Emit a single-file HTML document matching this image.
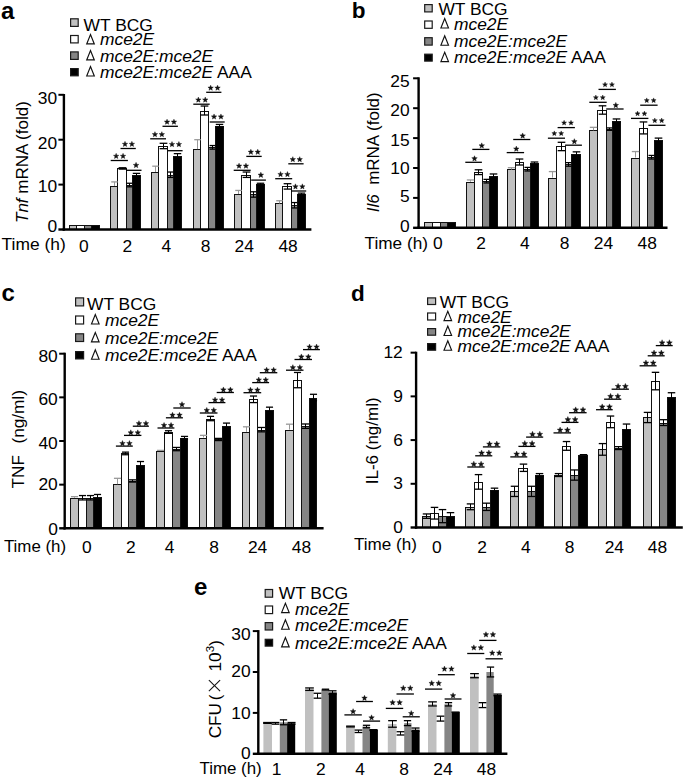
<!DOCTYPE html>
<html><head><meta charset="utf-8"><style>
html,body{margin:0;padding:0;background:#fff;}
svg{display:block;}
</style></head><body>
<svg width="685" height="780" viewBox="0 0 685 780" font-family='"Liberation Sans", sans-serif' fill="#000">
<rect width="685" height="780" fill="#fff"/>
<rect x="69.50" y="225.50" width="7.00" height="4.00" fill="#c0c0c0" stroke="#111" stroke-width="1.0"/>
<rect x="76.50" y="225.50" width="8.00" height="4.00" fill="#ffffff" stroke="#111" stroke-width="1.0"/>
<rect x="84.50" y="225.50" width="7.00" height="4.00" fill="#858585" stroke="#111" stroke-width="1.0"/>
<rect x="91.50" y="225.50" width="8.00" height="4.00" fill="#000000" stroke="#111" stroke-width="1.0"/>
<rect x="110.50" y="186.50" width="7.00" height="43.00" fill="#c0c0c0" stroke="#111" stroke-width="1.0"/>
<rect x="117.50" y="168.50" width="9.00" height="61.00" fill="#ffffff" stroke="#111" stroke-width="1.0"/>
<rect x="126.50" y="185.50" width="6.00" height="44.00" fill="#858585" stroke="#111" stroke-width="1.0"/>
<rect x="132.50" y="175.50" width="8.00" height="54.00" fill="#000000" stroke="#111" stroke-width="1.0"/>
<rect x="151.50" y="172.50" width="7.00" height="57.00" fill="#c0c0c0" stroke="#111" stroke-width="1.0"/>
<rect x="158.50" y="146.50" width="9.00" height="83.00" fill="#ffffff" stroke="#111" stroke-width="1.0"/>
<rect x="167.50" y="175.50" width="6.00" height="54.00" fill="#858585" stroke="#111" stroke-width="1.0"/>
<rect x="173.50" y="156.50" width="8.00" height="73.00" fill="#000000" stroke="#111" stroke-width="1.0"/>
<rect x="193.50" y="149.50" width="7.00" height="80.00" fill="#c0c0c0" stroke="#111" stroke-width="1.0"/>
<rect x="200.50" y="111.50" width="8.00" height="118.00" fill="#ffffff" stroke="#111" stroke-width="1.0"/>
<rect x="208.50" y="147.50" width="7.00" height="82.00" fill="#858585" stroke="#111" stroke-width="1.0"/>
<rect x="215.50" y="126.50" width="8.00" height="103.00" fill="#000000" stroke="#111" stroke-width="1.0"/>
<rect x="234.50" y="194.50" width="7.00" height="35.00" fill="#c0c0c0" stroke="#111" stroke-width="1.0"/>
<rect x="241.50" y="175.50" width="9.00" height="54.00" fill="#ffffff" stroke="#111" stroke-width="1.0"/>
<rect x="250.50" y="194.50" width="6.00" height="35.00" fill="#858585" stroke="#111" stroke-width="1.0"/>
<rect x="256.50" y="184.50" width="8.00" height="45.00" fill="#000000" stroke="#111" stroke-width="1.0"/>
<rect x="275.50" y="203.50" width="7.00" height="26.00" fill="#c0c0c0" stroke="#111" stroke-width="1.0"/>
<rect x="282.50" y="186.50" width="9.00" height="43.00" fill="#ffffff" stroke="#111" stroke-width="1.0"/>
<rect x="291.50" y="205.50" width="6.00" height="24.00" fill="#858585" stroke="#111" stroke-width="1.0"/>
<rect x="297.50" y="194.50" width="8.00" height="35.00" fill="#000000" stroke="#111" stroke-width="1.0"/>
<line x1="114.50" y1="181.91" x2="114.50" y2="185.95" stroke="#999999" stroke-width="1.0"/>
<line x1="111.23" y1="181.91" x2="117.77" y2="181.91" stroke="#999999" stroke-width="1.3"/>
<line x1="122.50" y1="167.76" x2="122.50" y2="169.11" stroke="#000" stroke-width="1.0"/>
<line x1="118.64" y1="167.76" x2="126.36" y2="167.76" stroke="#000" stroke-width="1.3"/>
<line x1="118.64" y1="169.11" x2="126.36" y2="169.11" stroke="#000" stroke-width="1.3"/>
<line x1="129.50" y1="183.25" x2="129.50" y2="186.84" stroke="#000" stroke-width="1.0"/>
<line x1="126.56" y1="183.25" x2="132.44" y2="183.25" stroke="#000" stroke-width="1.3"/>
<line x1="126.56" y1="186.84" x2="132.44" y2="186.84" stroke="#000" stroke-width="1.3"/>
<line x1="136.50" y1="173.38" x2="136.50" y2="176.97" stroke="#000" stroke-width="1.0"/>
<line x1="132.77" y1="173.38" x2="140.23" y2="173.38" stroke="#000" stroke-width="1.3"/>
<line x1="132.77" y1="176.97" x2="140.23" y2="176.97" stroke="#000" stroke-width="1.3"/>
<line x1="155.50" y1="166.19" x2="155.50" y2="172.03" stroke="#999999" stroke-width="1.0"/>
<line x1="152.23" y1="166.19" x2="158.77" y2="166.19" stroke="#999999" stroke-width="1.3"/>
<line x1="163.50" y1="143.29" x2="163.50" y2="148.68" stroke="#000" stroke-width="1.0"/>
<line x1="159.64" y1="143.29" x2="167.36" y2="143.29" stroke="#000" stroke-width="1.3"/>
<line x1="159.64" y1="148.68" x2="167.36" y2="148.68" stroke="#000" stroke-width="1.3"/>
<line x1="170.50" y1="172.03" x2="170.50" y2="177.42" stroke="#000" stroke-width="1.0"/>
<line x1="167.56" y1="172.03" x2="173.44" y2="172.03" stroke="#000" stroke-width="1.3"/>
<line x1="167.56" y1="177.42" x2="173.44" y2="177.42" stroke="#000" stroke-width="1.3"/>
<line x1="177.50" y1="153.62" x2="177.50" y2="159.01" stroke="#000" stroke-width="1.0"/>
<line x1="173.77" y1="153.62" x2="181.23" y2="153.62" stroke="#000" stroke-width="1.3"/>
<line x1="173.77" y1="159.01" x2="181.23" y2="159.01" stroke="#000" stroke-width="1.3"/>
<line x1="197.50" y1="139.70" x2="197.50" y2="149.13" stroke="#999999" stroke-width="1.0"/>
<line x1="194.23" y1="139.70" x2="200.77" y2="139.70" stroke="#999999" stroke-width="1.3"/>
<line x1="204.50" y1="106.03" x2="204.50" y2="115.00" stroke="#000" stroke-width="1.0"/>
<line x1="200.64" y1="106.03" x2="208.36" y2="106.03" stroke="#000" stroke-width="1.3"/>
<line x1="200.64" y1="115.00" x2="208.36" y2="115.00" stroke="#000" stroke-width="1.3"/>
<line x1="212.50" y1="145.54" x2="212.50" y2="149.13" stroke="#000" stroke-width="1.0"/>
<line x1="209.56" y1="145.54" x2="215.44" y2="145.54" stroke="#000" stroke-width="1.3"/>
<line x1="209.56" y1="149.13" x2="215.44" y2="149.13" stroke="#000" stroke-width="1.3"/>
<line x1="219.50" y1="124.43" x2="219.50" y2="127.13" stroke="#000" stroke-width="1.0"/>
<line x1="215.77" y1="124.43" x2="223.23" y2="124.43" stroke="#000" stroke-width="1.3"/>
<line x1="215.77" y1="127.13" x2="223.23" y2="127.13" stroke="#000" stroke-width="1.3"/>
<line x1="238.50" y1="190.44" x2="238.50" y2="194.03" stroke="#999999" stroke-width="1.0"/>
<line x1="235.23" y1="190.44" x2="241.77" y2="190.44" stroke="#999999" stroke-width="1.3"/>
<line x1="246.50" y1="172.03" x2="246.50" y2="177.42" stroke="#000" stroke-width="1.0"/>
<line x1="242.64" y1="172.03" x2="250.36" y2="172.03" stroke="#000" stroke-width="1.3"/>
<line x1="242.64" y1="177.42" x2="250.36" y2="177.42" stroke="#000" stroke-width="1.3"/>
<line x1="253.50" y1="191.78" x2="253.50" y2="197.17" stroke="#000" stroke-width="1.0"/>
<line x1="250.56" y1="191.78" x2="256.44" y2="191.78" stroke="#000" stroke-width="1.3"/>
<line x1="250.56" y1="197.17" x2="256.44" y2="197.17" stroke="#000" stroke-width="1.3"/>
<line x1="260.50" y1="183.25" x2="260.50" y2="185.05" stroke="#000" stroke-width="1.0"/>
<line x1="256.77" y1="183.25" x2="264.23" y2="183.25" stroke="#000" stroke-width="1.3"/>
<line x1="256.77" y1="185.05" x2="264.23" y2="185.05" stroke="#000" stroke-width="1.3"/>
<line x1="279.50" y1="200.76" x2="279.50" y2="203.46" stroke="#999999" stroke-width="1.0"/>
<line x1="276.23" y1="200.76" x2="282.77" y2="200.76" stroke="#999999" stroke-width="1.3"/>
<line x1="287.50" y1="183.70" x2="287.50" y2="189.09" stroke="#000" stroke-width="1.0"/>
<line x1="283.64" y1="183.70" x2="291.36" y2="183.70" stroke="#000" stroke-width="1.3"/>
<line x1="283.64" y1="189.09" x2="291.36" y2="189.09" stroke="#000" stroke-width="1.3"/>
<line x1="294.50" y1="202.56" x2="294.50" y2="207.95" stroke="#000" stroke-width="1.0"/>
<line x1="291.56" y1="202.56" x2="297.44" y2="202.56" stroke="#000" stroke-width="1.3"/>
<line x1="291.56" y1="207.95" x2="297.44" y2="207.95" stroke="#000" stroke-width="1.3"/>
<line x1="301.50" y1="193.13" x2="301.50" y2="194.93" stroke="#000" stroke-width="1.0"/>
<line x1="297.77" y1="193.13" x2="305.23" y2="193.13" stroke="#000" stroke-width="1.3"/>
<line x1="297.77" y1="194.93" x2="305.23" y2="194.93" stroke="#000" stroke-width="1.3"/>
<line x1="63.90" y1="94.00" x2="63.90" y2="230.70" stroke="#000" stroke-width="2.4"/>
<line x1="62.70" y1="229.50" x2="311.40" y2="229.50" stroke="#000" stroke-width="2.4"/>
<line x1="58.40" y1="229.50" x2="63.90" y2="229.50" stroke="#000" stroke-width="2.4"/>
<text x="57.20" y="232.10" font-size="17.4" text-anchor="end">0</text>
<line x1="58.40" y1="184.60" x2="63.90" y2="184.60" stroke="#000" stroke-width="2.0"/>
<text x="57.20" y="192.00" font-size="17.4" text-anchor="end">10</text>
<line x1="58.40" y1="139.70" x2="63.90" y2="139.70" stroke="#000" stroke-width="2.0"/>
<text x="57.20" y="149.00" font-size="17.4" text-anchor="end">20</text>
<line x1="58.40" y1="94.80" x2="63.90" y2="94.80" stroke="#000" stroke-width="2.0"/>
<text x="57.20" y="104.00" font-size="17.4" text-anchor="end">30</text>
<text x="83.80" y="251.60" font-size="17.4" text-anchor="middle">0</text>
<text x="127.40" y="251.60" font-size="17.4" text-anchor="middle">2</text>
<text x="166.40" y="251.60" font-size="17.4" text-anchor="middle">4</text>
<text x="205.60" y="251.60" font-size="17.4" text-anchor="middle">8</text>
<text x="244.20" y="251.60" font-size="17.4" text-anchor="middle">24</text>
<text x="288.10" y="251.60" font-size="17.4" text-anchor="middle">48</text>
<text x="1.60" y="249.50" font-size="17.4">Time (h)</text>
<text transform="translate(27.90,223.00) rotate(-90)" font-size="17"><tspan font-style="italic">Tnf</tspan> mRNA (fold)</text>
<line x1="110.70" y1="160.50" x2="127.90" y2="160.50" stroke="#000" stroke-width="1.3"/>
<polygon points="116.15,153.34 116.89,155.18 118.86,155.31 117.34,156.58 117.83,158.50 116.15,157.45 114.47,158.50 114.96,156.58 113.44,155.31 115.41,155.18" fill="#111" stroke="#111" stroke-width="0.4" stroke-linejoin="round"/>
<polygon points="123.05,153.34 123.79,155.18 125.76,155.31 124.24,156.58 124.73,158.50 123.05,157.45 121.37,158.50 121.86,156.58 120.34,155.31 122.31,155.18" fill="#111" stroke="#111" stroke-width="0.4" stroke-linejoin="round"/>
<line x1="120.50" y1="148.50" x2="135.80" y2="148.50" stroke="#000" stroke-width="1.3"/>
<polygon points="125.00,141.34 125.74,143.18 127.71,143.31 126.19,144.58 126.68,146.50 125.00,145.45 123.32,146.50 123.81,144.58 122.29,143.31 124.26,143.18" fill="#111" stroke="#111" stroke-width="0.4" stroke-linejoin="round"/>
<polygon points="131.90,141.34 132.64,143.18 134.61,143.31 133.09,144.58 133.58,146.50 131.90,145.45 130.22,146.50 130.71,144.58 129.19,143.31 131.16,143.18" fill="#111" stroke="#111" stroke-width="0.4" stroke-linejoin="round"/>
<line x1="126.00" y1="170.30" x2="141.50" y2="170.30" stroke="#000" stroke-width="1.3"/>
<polygon points="136.05,162.36 136.81,164.26 138.86,164.40 137.28,165.71 137.78,167.70 136.05,166.61 134.32,167.70 134.82,165.71 133.24,164.40 135.29,164.26" fill="#111" stroke="#111" stroke-width="0.4" stroke-linejoin="round"/>
<line x1="150.20" y1="138.80" x2="166.00" y2="138.80" stroke="#000" stroke-width="1.3"/>
<polygon points="154.95,131.64 155.69,133.48 157.66,133.61 156.14,134.88 156.63,136.80 154.95,135.75 153.27,136.80 153.76,134.88 152.24,133.61 154.21,133.48" fill="#111" stroke="#111" stroke-width="0.4" stroke-linejoin="round"/>
<polygon points="161.85,131.64 162.59,133.48 164.56,133.61 163.04,134.88 163.53,136.80 161.85,135.75 160.17,136.80 160.66,134.88 159.14,133.61 161.11,133.48" fill="#111" stroke="#111" stroke-width="0.4" stroke-linejoin="round"/>
<line x1="162.50" y1="126.30" x2="177.90" y2="126.30" stroke="#000" stroke-width="1.3"/>
<polygon points="167.05,119.14 167.79,120.98 169.76,121.11 168.24,122.38 168.73,124.30 167.05,123.25 165.37,124.30 165.86,122.38 164.34,121.11 166.31,120.98" fill="#111" stroke="#111" stroke-width="0.4" stroke-linejoin="round"/>
<polygon points="173.95,119.14 174.69,120.98 176.66,121.11 175.14,122.38 175.63,124.30 173.95,123.25 172.27,124.30 172.76,122.38 171.24,121.11 173.21,120.98" fill="#111" stroke="#111" stroke-width="0.4" stroke-linejoin="round"/>
<line x1="167.70" y1="150.70" x2="182.60" y2="150.70" stroke="#000" stroke-width="1.3"/>
<polygon points="172.00,141.54 172.74,143.38 174.71,143.51 173.19,144.78 173.68,146.70 172.00,145.65 170.32,146.70 170.81,144.78 169.29,143.51 171.26,143.38" fill="#111" stroke="#111" stroke-width="0.4" stroke-linejoin="round"/>
<polygon points="178.90,141.54 179.64,143.38 181.61,143.51 180.09,144.78 180.58,146.70 178.90,145.65 177.22,146.70 177.71,144.78 176.19,143.51 178.16,143.38" fill="#111" stroke="#111" stroke-width="0.4" stroke-linejoin="round"/>
<line x1="193.30" y1="104.20" x2="209.70" y2="104.20" stroke="#000" stroke-width="1.3"/>
<polygon points="198.35,97.04 199.09,98.88 201.06,99.01 199.54,100.28 200.03,102.20 198.35,101.15 196.67,102.20 197.16,100.28 195.64,99.01 197.61,98.88" fill="#111" stroke="#111" stroke-width="0.4" stroke-linejoin="round"/>
<polygon points="205.25,97.04 205.99,98.88 207.96,99.01 206.44,100.28 206.93,102.20 205.25,101.15 203.57,102.20 204.06,100.28 202.54,99.01 204.51,98.88" fill="#111" stroke="#111" stroke-width="0.4" stroke-linejoin="round"/>
<line x1="206.20" y1="92.30" x2="221.40" y2="92.30" stroke="#000" stroke-width="1.3"/>
<polygon points="210.65,85.14 211.39,86.98 213.36,87.11 211.84,88.38 212.33,90.30 210.65,89.25 208.97,90.30 209.46,88.38 207.94,87.11 209.91,86.98" fill="#111" stroke="#111" stroke-width="0.4" stroke-linejoin="round"/>
<polygon points="217.55,85.14 218.29,86.98 220.26,87.11 218.74,88.38 219.23,90.30 217.55,89.25 215.87,90.30 216.36,88.38 214.84,87.11 216.81,86.98" fill="#111" stroke="#111" stroke-width="0.4" stroke-linejoin="round"/>
<line x1="209.70" y1="122.00" x2="224.70" y2="122.00" stroke="#000" stroke-width="1.3"/>
<polygon points="214.05,113.94 214.79,115.78 216.76,115.91 215.24,117.18 215.73,119.10 214.05,118.05 212.37,119.10 212.86,117.18 211.34,115.91 213.31,115.78" fill="#111" stroke="#111" stroke-width="0.4" stroke-linejoin="round"/>
<polygon points="220.95,113.94 221.69,115.78 223.66,115.91 222.14,117.18 222.63,119.10 220.95,118.05 219.27,119.10 219.76,117.18 218.24,115.91 220.21,115.78" fill="#111" stroke="#111" stroke-width="0.4" stroke-linejoin="round"/>
<line x1="233.70" y1="170.30" x2="250.70" y2="170.30" stroke="#000" stroke-width="1.3"/>
<polygon points="239.05,163.14 239.79,164.98 241.76,165.11 240.24,166.38 240.73,168.30 239.05,167.25 237.37,168.30 237.86,166.38 236.34,165.11 238.31,164.98" fill="#111" stroke="#111" stroke-width="0.4" stroke-linejoin="round"/>
<polygon points="245.95,163.14 246.69,164.98 248.66,165.11 247.14,166.38 247.63,168.30 245.95,167.25 244.27,168.30 244.76,166.38 243.24,165.11 245.21,164.98" fill="#111" stroke="#111" stroke-width="0.4" stroke-linejoin="round"/>
<line x1="246.30" y1="156.40" x2="261.70" y2="156.40" stroke="#000" stroke-width="1.3"/>
<polygon points="250.85,149.24 251.59,151.08 253.56,151.21 252.04,152.48 252.53,154.40 250.85,153.35 249.17,154.40 249.66,152.48 248.14,151.21 250.11,151.08" fill="#111" stroke="#111" stroke-width="0.4" stroke-linejoin="round"/>
<polygon points="257.75,149.24 258.49,151.08 260.46,151.21 258.94,152.48 259.43,154.40 257.75,153.35 256.07,154.40 256.56,152.48 255.04,151.21 257.01,151.08" fill="#111" stroke="#111" stroke-width="0.4" stroke-linejoin="round"/>
<line x1="251.20" y1="180.10" x2="265.90" y2="180.10" stroke="#000" stroke-width="1.3"/>
<polygon points="260.85,172.16 261.61,174.06 263.66,174.20 262.08,175.51 262.58,177.50 260.85,176.41 259.12,177.50 259.62,175.51 258.04,174.20 260.09,174.06" fill="#111" stroke="#111" stroke-width="0.4" stroke-linejoin="round"/>
<line x1="275.20" y1="178.70" x2="292.20" y2="178.70" stroke="#000" stroke-width="1.3"/>
<polygon points="280.55,171.54 281.29,173.38 283.26,173.51 281.74,174.78 282.23,176.70 280.55,175.65 278.87,176.70 279.36,174.78 277.84,173.51 279.81,173.38" fill="#111" stroke="#111" stroke-width="0.4" stroke-linejoin="round"/>
<polygon points="287.45,171.54 288.19,173.38 290.16,173.51 288.64,174.78 289.13,176.70 287.45,175.65 285.77,176.70 286.26,174.78 284.74,173.51 286.71,173.38" fill="#111" stroke="#111" stroke-width="0.4" stroke-linejoin="round"/>
<line x1="288.30" y1="163.80" x2="303.60" y2="163.80" stroke="#000" stroke-width="1.3"/>
<polygon points="292.80,156.64 293.54,158.48 295.51,158.61 293.99,159.88 294.48,161.80 292.80,160.75 291.12,161.80 291.61,159.88 290.09,158.61 292.06,158.48" fill="#111" stroke="#111" stroke-width="0.4" stroke-linejoin="round"/>
<polygon points="299.70,156.64 300.44,158.48 302.41,158.61 300.89,159.88 301.38,161.80 299.70,160.75 298.02,161.80 298.51,159.88 296.99,158.61 298.96,158.48" fill="#111" stroke="#111" stroke-width="0.4" stroke-linejoin="round"/>
<line x1="291.00" y1="191.00" x2="306.20" y2="191.00" stroke="#000" stroke-width="1.3"/>
<polygon points="295.45,183.84 296.19,185.68 298.16,185.81 296.64,187.08 297.13,189.00 295.45,187.95 293.77,189.00 294.26,187.08 292.74,185.81 294.71,185.68" fill="#111" stroke="#111" stroke-width="0.4" stroke-linejoin="round"/>
<polygon points="302.35,183.84 303.09,185.68 305.06,185.81 303.54,187.08 304.03,189.00 302.35,187.95 300.67,189.00 301.16,187.08 299.64,185.81 301.61,185.68" fill="#111" stroke="#111" stroke-width="0.4" stroke-linejoin="round"/>
<text x="1.00" y="18.60" font-size="24" font-weight="bold">a</text>
<rect x="70.60" y="18.80" width="7.60" height="7.60" fill="#c0c0c0" stroke="#1a1a1a" stroke-width="1.2"/>
<rect x="70.60" y="35.50" width="7.60" height="7.40" fill="#ffffff" stroke="#1a1a1a" stroke-width="1.2"/>
<rect x="70.60" y="51.90" width="7.60" height="7.50" fill="#858585" stroke="#1a1a1a" stroke-width="1.2"/>
<rect x="70.60" y="68.60" width="7.60" height="7.20" fill="#000000" stroke="#1a1a1a" stroke-width="1.2"/>
<text x="83.60" y="30.80" font-size="17.4">WT BCG</text>
<path d="M86.69,43.92 L90.50,34.52 L94.31,43.92 Z" fill="none" stroke="#111" stroke-width="1.15" stroke-linejoin="miter"/>
<text x="100.00" y="45.40" font-size="17.4"><tspan font-style="italic">mce2E</tspan></text>
<path d="M86.69,59.92 L90.50,50.52 L94.31,59.92 Z" fill="none" stroke="#111" stroke-width="1.15" stroke-linejoin="miter"/>
<text x="100.00" y="61.50" font-size="17.4"><tspan font-style="italic">mce2E:mce2E</tspan></text>
<path d="M86.69,76.02 L90.50,66.62 L94.31,76.02 Z" fill="none" stroke="#111" stroke-width="1.15" stroke-linejoin="miter"/>
<text x="100.00" y="77.60" font-size="17.4"><tspan font-style="italic">mce2E:mce2E</tspan> AAA</text>
<rect x="424.50" y="222.50" width="8.00" height="5.30" fill="#c0c0c0" stroke="#111" stroke-width="1.0"/>
<rect x="432.50" y="222.50" width="8.00" height="5.30" fill="#ffffff" stroke="#111" stroke-width="1.0"/>
<rect x="440.50" y="222.50" width="7.00" height="5.30" fill="#858585" stroke="#111" stroke-width="1.0"/>
<rect x="447.50" y="222.50" width="8.00" height="5.30" fill="#000000" stroke="#111" stroke-width="1.0"/>
<rect x="466.50" y="182.50" width="8.00" height="45.30" fill="#c0c0c0" stroke="#111" stroke-width="1.0"/>
<rect x="474.50" y="172.50" width="8.00" height="55.30" fill="#ffffff" stroke="#111" stroke-width="1.0"/>
<rect x="482.50" y="181.50" width="7.00" height="46.30" fill="#858585" stroke="#111" stroke-width="1.0"/>
<rect x="489.50" y="176.50" width="8.00" height="51.30" fill="#000000" stroke="#111" stroke-width="1.0"/>
<rect x="507.50" y="169.50" width="8.00" height="58.30" fill="#c0c0c0" stroke="#111" stroke-width="1.0"/>
<rect x="515.50" y="162.50" width="8.00" height="65.30" fill="#ffffff" stroke="#111" stroke-width="1.0"/>
<rect x="523.50" y="169.50" width="7.00" height="58.30" fill="#858585" stroke="#111" stroke-width="1.0"/>
<rect x="530.50" y="163.50" width="8.00" height="64.30" fill="#000000" stroke="#111" stroke-width="1.0"/>
<rect x="548.50" y="178.50" width="8.00" height="49.30" fill="#c0c0c0" stroke="#111" stroke-width="1.0"/>
<rect x="556.50" y="146.50" width="9.00" height="81.30" fill="#ffffff" stroke="#111" stroke-width="1.0"/>
<rect x="565.50" y="164.50" width="6.00" height="63.30" fill="#858585" stroke="#111" stroke-width="1.0"/>
<rect x="571.50" y="154.50" width="9.00" height="73.30" fill="#000000" stroke="#111" stroke-width="1.0"/>
<rect x="589.50" y="130.50" width="8.00" height="97.30" fill="#c0c0c0" stroke="#111" stroke-width="1.0"/>
<rect x="597.50" y="110.50" width="9.00" height="117.30" fill="#ffffff" stroke="#111" stroke-width="1.0"/>
<rect x="606.50" y="129.50" width="6.00" height="98.30" fill="#858585" stroke="#111" stroke-width="1.0"/>
<rect x="612.50" y="121.50" width="8.00" height="106.30" fill="#000000" stroke="#111" stroke-width="1.0"/>
<rect x="631.50" y="158.50" width="8.00" height="69.30" fill="#c0c0c0" stroke="#111" stroke-width="1.0"/>
<rect x="639.50" y="128.50" width="8.00" height="99.30" fill="#ffffff" stroke="#111" stroke-width="1.0"/>
<rect x="647.50" y="157.50" width="7.00" height="70.30" fill="#858585" stroke="#111" stroke-width="1.0"/>
<rect x="654.50" y="140.50" width="8.00" height="87.30" fill="#000000" stroke="#111" stroke-width="1.0"/>
<line x1="470.50" y1="179.96" x2="470.50" y2="181.75" stroke="#999999" stroke-width="1.0"/>
<line x1="466.82" y1="179.96" x2="474.18" y2="179.96" stroke="#999999" stroke-width="1.3"/>
<line x1="478.50" y1="169.79" x2="478.50" y2="174.58" stroke="#000" stroke-width="1.0"/>
<line x1="474.68" y1="169.79" x2="482.32" y2="169.79" stroke="#000" stroke-width="1.3"/>
<line x1="474.68" y1="174.58" x2="482.32" y2="174.58" stroke="#000" stroke-width="1.3"/>
<line x1="486.50" y1="179.36" x2="486.50" y2="182.95" stroke="#000" stroke-width="1.0"/>
<line x1="483.46" y1="179.36" x2="489.54" y2="179.36" stroke="#000" stroke-width="1.3"/>
<line x1="483.46" y1="182.95" x2="489.54" y2="182.95" stroke="#000" stroke-width="1.3"/>
<line x1="493.50" y1="173.98" x2="493.50" y2="178.76" stroke="#000" stroke-width="1.0"/>
<line x1="489.68" y1="173.98" x2="497.32" y2="173.98" stroke="#000" stroke-width="1.3"/>
<line x1="489.68" y1="178.76" x2="497.32" y2="178.76" stroke="#000" stroke-width="1.3"/>
<line x1="511.50" y1="167.70" x2="511.50" y2="169.50" stroke="#999999" stroke-width="1.0"/>
<line x1="507.82" y1="167.70" x2="515.18" y2="167.70" stroke="#999999" stroke-width="1.3"/>
<line x1="519.50" y1="159.03" x2="519.50" y2="165.01" stroke="#000" stroke-width="1.0"/>
<line x1="515.68" y1="159.03" x2="523.32" y2="159.03" stroke="#000" stroke-width="1.3"/>
<line x1="515.68" y1="165.01" x2="523.32" y2="165.01" stroke="#000" stroke-width="1.3"/>
<line x1="527.50" y1="167.40" x2="527.50" y2="170.99" stroke="#000" stroke-width="1.0"/>
<line x1="524.46" y1="167.40" x2="530.54" y2="167.40" stroke="#000" stroke-width="1.3"/>
<line x1="524.46" y1="170.99" x2="530.54" y2="170.99" stroke="#000" stroke-width="1.3"/>
<line x1="534.50" y1="162.02" x2="534.50" y2="164.41" stroke="#000" stroke-width="1.0"/>
<line x1="530.68" y1="162.02" x2="538.32" y2="162.02" stroke="#000" stroke-width="1.3"/>
<line x1="530.68" y1="164.41" x2="538.32" y2="164.41" stroke="#000" stroke-width="1.3"/>
<line x1="552.50" y1="171.59" x2="552.50" y2="177.57" stroke="#999999" stroke-width="1.0"/>
<line x1="548.82" y1="171.59" x2="556.18" y2="171.59" stroke="#999999" stroke-width="1.3"/>
<line x1="561.50" y1="142.29" x2="561.50" y2="150.66" stroke="#000" stroke-width="1.0"/>
<line x1="557.68" y1="142.29" x2="565.32" y2="142.29" stroke="#000" stroke-width="1.3"/>
<line x1="557.68" y1="150.66" x2="565.32" y2="150.66" stroke="#000" stroke-width="1.3"/>
<line x1="568.50" y1="162.62" x2="568.50" y2="166.21" stroke="#000" stroke-width="1.0"/>
<line x1="565.46" y1="162.62" x2="571.54" y2="162.62" stroke="#000" stroke-width="1.3"/>
<line x1="565.46" y1="166.21" x2="571.54" y2="166.21" stroke="#000" stroke-width="1.3"/>
<line x1="576.50" y1="151.85" x2="576.50" y2="156.64" stroke="#000" stroke-width="1.0"/>
<line x1="572.68" y1="151.85" x2="580.32" y2="151.85" stroke="#000" stroke-width="1.3"/>
<line x1="572.68" y1="156.64" x2="580.32" y2="156.64" stroke="#000" stroke-width="1.3"/>
<line x1="593.50" y1="127.34" x2="593.50" y2="130.33" stroke="#999999" stroke-width="1.0"/>
<line x1="589.82" y1="127.34" x2="597.18" y2="127.34" stroke="#999999" stroke-width="1.3"/>
<line x1="602.50" y1="105.81" x2="602.50" y2="114.18" stroke="#000" stroke-width="1.0"/>
<line x1="598.68" y1="105.81" x2="606.32" y2="105.81" stroke="#000" stroke-width="1.3"/>
<line x1="598.68" y1="114.18" x2="606.32" y2="114.18" stroke="#000" stroke-width="1.3"/>
<line x1="609.50" y1="127.93" x2="609.50" y2="130.33" stroke="#000" stroke-width="1.0"/>
<line x1="606.46" y1="127.93" x2="612.54" y2="127.93" stroke="#000" stroke-width="1.3"/>
<line x1="606.46" y1="130.33" x2="612.54" y2="130.33" stroke="#000" stroke-width="1.3"/>
<line x1="616.50" y1="118.96" x2="616.50" y2="122.55" stroke="#000" stroke-width="1.0"/>
<line x1="612.68" y1="118.96" x2="620.32" y2="118.96" stroke="#000" stroke-width="1.3"/>
<line x1="612.68" y1="122.55" x2="620.32" y2="122.55" stroke="#000" stroke-width="1.3"/>
<line x1="635.50" y1="151.56" x2="635.50" y2="157.54" stroke="#999999" stroke-width="1.0"/>
<line x1="631.82" y1="151.56" x2="639.18" y2="151.56" stroke="#999999" stroke-width="1.3"/>
<line x1="643.50" y1="121.95" x2="643.50" y2="133.91" stroke="#000" stroke-width="1.0"/>
<line x1="639.68" y1="121.95" x2="647.32" y2="121.95" stroke="#000" stroke-width="1.3"/>
<line x1="639.68" y1="133.91" x2="647.32" y2="133.91" stroke="#000" stroke-width="1.3"/>
<line x1="651.50" y1="155.44" x2="651.50" y2="159.03" stroke="#000" stroke-width="1.0"/>
<line x1="648.46" y1="155.44" x2="654.54" y2="155.44" stroke="#000" stroke-width="1.3"/>
<line x1="648.46" y1="159.03" x2="654.54" y2="159.03" stroke="#000" stroke-width="1.3"/>
<line x1="658.50" y1="138.10" x2="658.50" y2="141.69" stroke="#000" stroke-width="1.0"/>
<line x1="654.68" y1="138.10" x2="662.32" y2="138.10" stroke="#000" stroke-width="1.3"/>
<line x1="654.68" y1="141.69" x2="662.32" y2="141.69" stroke="#000" stroke-width="1.3"/>
<line x1="418.60" y1="77.30" x2="418.60" y2="229.00" stroke="#000" stroke-width="2.4"/>
<line x1="417.40" y1="227.80" x2="667.50" y2="227.80" stroke="#000" stroke-width="2.4"/>
<line x1="413.10" y1="227.80" x2="418.60" y2="227.80" stroke="#000" stroke-width="2.4"/>
<text x="409.70" y="231.80" font-size="17.4" text-anchor="end">0</text>
<line x1="413.10" y1="197.90" x2="418.60" y2="197.90" stroke="#000" stroke-width="2.0"/>
<text x="409.70" y="201.90" font-size="17.4" text-anchor="end">5</text>
<line x1="413.10" y1="168.00" x2="418.60" y2="168.00" stroke="#000" stroke-width="2.0"/>
<text x="409.70" y="173.60" font-size="17.4" text-anchor="end">10</text>
<line x1="413.10" y1="138.10" x2="418.60" y2="138.10" stroke="#000" stroke-width="2.0"/>
<text x="409.70" y="146.10" font-size="17.4" text-anchor="end">15</text>
<line x1="413.10" y1="108.20" x2="418.60" y2="108.20" stroke="#000" stroke-width="2.0"/>
<text x="409.70" y="115.50" font-size="17.4" text-anchor="end">20</text>
<line x1="413.10" y1="78.30" x2="418.60" y2="78.30" stroke="#000" stroke-width="2.0"/>
<text x="409.70" y="86.70" font-size="17.4" text-anchor="end">25</text>
<text x="437.80" y="249.40" font-size="17.4" text-anchor="middle">0</text>
<text x="481.10" y="249.40" font-size="17.4" text-anchor="middle">2</text>
<text x="524.90" y="249.40" font-size="17.4" text-anchor="middle">4</text>
<text x="564.60" y="249.40" font-size="17.4" text-anchor="middle">8</text>
<text x="603.40" y="249.40" font-size="17.4" text-anchor="middle">24</text>
<text x="647.20" y="249.40" font-size="17.4" text-anchor="middle">48</text>
<text x="364.60" y="248.80" font-size="17.2">Time (h)</text>
<text transform="translate(379.20,212.20) rotate(-90)" font-size="17"><tspan font-style="italic">Il6</tspan><tspan dx="9.4">mRNA (fold)</tspan></text>
<line x1="465.30" y1="162.30" x2="481.90" y2="162.30" stroke="#000" stroke-width="1.3"/>
<polygon points="474.50,155.75 475.25,157.62 477.26,157.76 475.71,159.05 476.20,161.00 474.50,159.93 472.80,161.00 473.29,159.05 471.74,157.76 473.75,157.62" fill="#111" stroke="#111" stroke-width="0.4" stroke-linejoin="round"/>
<line x1="472.30" y1="149.40" x2="489.40" y2="149.40" stroke="#000" stroke-width="1.3"/>
<polygon points="481.75,142.85 482.50,144.72 484.51,144.86 482.96,146.15 483.45,148.10 481.75,147.03 480.05,148.10 480.54,146.15 478.99,144.86 481.00,144.72" fill="#111" stroke="#111" stroke-width="0.4" stroke-linejoin="round"/>
<line x1="506.70" y1="152.60" x2="524.10" y2="152.60" stroke="#000" stroke-width="1.3"/>
<polygon points="516.30,146.05 517.05,147.92 519.06,148.06 517.51,149.35 518.00,151.30 516.30,150.23 514.60,151.30 515.09,149.35 513.54,148.06 515.55,147.92" fill="#111" stroke="#111" stroke-width="0.4" stroke-linejoin="round"/>
<line x1="513.20" y1="139.50" x2="530.30" y2="139.50" stroke="#000" stroke-width="1.3"/>
<polygon points="522.65,132.95 523.40,134.82 525.41,134.96 523.86,136.25 524.35,138.20 522.65,137.13 520.95,138.20 521.44,136.25 519.89,134.96 521.90,134.82" fill="#111" stroke="#111" stroke-width="0.4" stroke-linejoin="round"/>
<line x1="547.90" y1="138.20" x2="565.00" y2="138.20" stroke="#000" stroke-width="1.3"/>
<polygon points="554.30,130.90 554.97,132.57 556.77,132.69 555.39,133.85 555.83,135.60 554.30,134.64 552.77,135.60 553.21,133.85 551.83,132.69 553.63,132.57" fill="#111" stroke="#111" stroke-width="0.4" stroke-linejoin="round"/>
<polygon points="561.20,130.90 561.87,132.57 563.67,132.69 562.29,133.85 562.73,135.60 561.20,134.64 559.67,135.60 560.11,133.85 558.73,132.69 560.53,132.57" fill="#111" stroke="#111" stroke-width="0.4" stroke-linejoin="round"/>
<line x1="557.60" y1="127.60" x2="574.90" y2="127.60" stroke="#000" stroke-width="1.3"/>
<polygon points="564.10,120.30 564.77,121.97 566.57,122.09 565.19,123.25 565.63,125.00 564.10,124.04 562.57,125.00 563.01,123.25 561.63,122.09 563.43,121.97" fill="#111" stroke="#111" stroke-width="0.4" stroke-linejoin="round"/>
<polygon points="571.00,120.30 571.67,121.97 573.47,122.09 572.09,123.25 572.53,125.00 571.00,124.04 569.47,125.00 569.91,123.25 568.53,122.09 570.33,121.97" fill="#111" stroke="#111" stroke-width="0.4" stroke-linejoin="round"/>
<line x1="565.00" y1="145.20" x2="581.90" y2="145.20" stroke="#000" stroke-width="1.3"/>
<polygon points="574.35,138.65 575.10,140.52 577.11,140.66 575.56,141.95 576.05,143.90 574.35,142.83 572.65,143.90 573.14,141.95 571.59,140.66 573.60,140.52" fill="#111" stroke="#111" stroke-width="0.4" stroke-linejoin="round"/>
<line x1="589.30" y1="102.30" x2="606.70" y2="102.30" stroke="#000" stroke-width="1.3"/>
<polygon points="595.85,95.00 596.52,96.67 598.32,96.79 596.94,97.95 597.38,99.70 595.85,98.74 594.32,99.70 594.76,97.95 593.38,96.79 595.18,96.67" fill="#111" stroke="#111" stroke-width="0.4" stroke-linejoin="round"/>
<polygon points="602.75,95.00 603.42,96.67 605.22,96.79 603.84,97.95 604.28,99.70 602.75,98.74 601.22,99.70 601.66,97.95 600.28,96.79 602.08,96.67" fill="#111" stroke="#111" stroke-width="0.4" stroke-linejoin="round"/>
<line x1="598.50" y1="89.40" x2="615.90" y2="89.40" stroke="#000" stroke-width="1.3"/>
<polygon points="605.05,82.10 605.72,83.77 607.52,83.89 606.14,85.05 606.58,86.80 605.05,85.84 603.52,86.80 603.96,85.05 602.58,83.89 604.38,83.77" fill="#111" stroke="#111" stroke-width="0.4" stroke-linejoin="round"/>
<polygon points="611.95,82.10 612.62,83.77 614.42,83.89 613.04,85.05 613.48,86.80 611.95,85.84 610.42,86.80 610.86,85.05 609.48,83.89 611.28,83.77" fill="#111" stroke="#111" stroke-width="0.4" stroke-linejoin="round"/>
<line x1="606.20" y1="109.00" x2="623.60" y2="109.00" stroke="#000" stroke-width="1.3"/>
<polygon points="615.80,102.45 616.55,104.32 618.56,104.46 617.01,105.75 617.50,107.70 615.80,106.63 614.10,107.70 614.59,105.75 613.04,104.46 615.05,104.32" fill="#111" stroke="#111" stroke-width="0.4" stroke-linejoin="round"/>
<line x1="631.00" y1="118.40" x2="648.40" y2="118.40" stroke="#000" stroke-width="1.3"/>
<polygon points="637.55,111.10 638.22,112.77 640.02,112.89 638.64,114.05 639.08,115.80 637.55,114.84 636.02,115.80 636.46,114.05 635.08,112.89 636.88,112.77" fill="#111" stroke="#111" stroke-width="0.4" stroke-linejoin="round"/>
<polygon points="644.45,111.10 645.12,112.77 646.92,112.89 645.54,114.05 645.98,115.80 644.45,114.84 642.92,115.80 643.36,114.05 641.98,112.89 643.78,112.77" fill="#111" stroke="#111" stroke-width="0.4" stroke-linejoin="round"/>
<line x1="640.20" y1="105.20" x2="657.60" y2="105.20" stroke="#000" stroke-width="1.3"/>
<polygon points="646.75,97.90 647.42,99.57 649.22,99.69 647.84,100.85 648.28,102.60 646.75,101.64 645.22,102.60 645.66,100.85 644.28,99.69 646.08,99.57" fill="#111" stroke="#111" stroke-width="0.4" stroke-linejoin="round"/>
<polygon points="653.65,97.90 654.32,99.57 656.12,99.69 654.74,100.85 655.18,102.60 653.65,101.64 652.12,102.60 652.56,100.85 651.18,99.69 652.98,99.57" fill="#111" stroke="#111" stroke-width="0.4" stroke-linejoin="round"/>
<line x1="648.40" y1="125.30" x2="665.50" y2="125.30" stroke="#000" stroke-width="1.3"/>
<polygon points="654.80,118.00 655.47,119.67 657.27,119.79 655.89,120.95 656.33,122.70 654.80,121.74 653.27,122.70 653.71,120.95 652.33,119.79 654.13,119.67" fill="#111" stroke="#111" stroke-width="0.4" stroke-linejoin="round"/>
<polygon points="661.70,118.00 662.37,119.67 664.17,119.79 662.79,120.95 663.23,122.70 661.70,121.74 660.17,122.70 660.61,120.95 659.23,119.79 661.03,119.67" fill="#111" stroke="#111" stroke-width="0.4" stroke-linejoin="round"/>
<text x="351.80" y="18.40" font-size="22.5" font-weight="bold">b</text>
<rect x="424.70" y="4.60" width="7.50" height="7.30" fill="#c0c0c0" stroke="#1a1a1a" stroke-width="1.2"/>
<rect x="424.70" y="21.00" width="7.50" height="7.30" fill="#ffffff" stroke="#1a1a1a" stroke-width="1.2"/>
<rect x="424.70" y="37.70" width="7.50" height="7.40" fill="#858585" stroke="#1a1a1a" stroke-width="1.2"/>
<rect x="424.70" y="54.20" width="7.50" height="6.90" fill="#000000" stroke="#1a1a1a" stroke-width="1.2"/>
<text x="438.40" y="14.80" font-size="17.4">WT BCG</text>
<path d="M440.89,28.03 L444.70,18.62 L448.51,28.03 Z" fill="none" stroke="#111" stroke-width="1.15" stroke-linejoin="miter"/>
<text x="454.00" y="29.90" font-size="17.4"><tspan font-style="italic">mce2E</tspan></text>
<path d="M440.89,45.22 L444.70,35.82 L448.51,45.22 Z" fill="none" stroke="#111" stroke-width="1.15" stroke-linejoin="miter"/>
<text x="454.00" y="46.80" font-size="17.4"><tspan font-style="italic">mce2E:mce2E</tspan></text>
<path d="M440.89,61.62 L444.70,52.22 L448.51,61.62 Z" fill="none" stroke="#111" stroke-width="1.15" stroke-linejoin="miter"/>
<text x="454.00" y="63.00" font-size="17.4"><tspan font-style="italic">mce2E:mce2E</tspan> AAA</text>
<rect x="70.50" y="498.50" width="8.00" height="29.80" fill="#c0c0c0" stroke="#111" stroke-width="1.0"/>
<rect x="78.50" y="498.50" width="8.00" height="29.80" fill="#ffffff" stroke="#111" stroke-width="1.0"/>
<rect x="86.50" y="498.50" width="7.00" height="29.80" fill="#858585" stroke="#111" stroke-width="1.0"/>
<rect x="93.50" y="497.50" width="8.00" height="30.80" fill="#000000" stroke="#111" stroke-width="1.0"/>
<rect x="113.50" y="484.50" width="8.00" height="43.80" fill="#c0c0c0" stroke="#111" stroke-width="1.0"/>
<rect x="121.50" y="453.50" width="7.00" height="74.80" fill="#ffffff" stroke="#111" stroke-width="1.0"/>
<rect x="128.50" y="481.50" width="8.00" height="46.80" fill="#858585" stroke="#111" stroke-width="1.0"/>
<rect x="136.50" y="465.50" width="8.00" height="62.80" fill="#000000" stroke="#111" stroke-width="1.0"/>
<rect x="156.50" y="451.50" width="8.00" height="76.80" fill="#c0c0c0" stroke="#111" stroke-width="1.0"/>
<rect x="164.50" y="432.50" width="8.00" height="95.80" fill="#ffffff" stroke="#111" stroke-width="1.0"/>
<rect x="172.50" y="449.50" width="8.00" height="78.80" fill="#858585" stroke="#111" stroke-width="1.0"/>
<rect x="180.50" y="438.50" width="7.00" height="89.80" fill="#000000" stroke="#111" stroke-width="1.0"/>
<rect x="199.50" y="438.50" width="7.00" height="89.80" fill="#c0c0c0" stroke="#111" stroke-width="1.0"/>
<rect x="206.50" y="419.50" width="8.00" height="108.80" fill="#ffffff" stroke="#111" stroke-width="1.0"/>
<rect x="214.50" y="439.50" width="8.00" height="88.80" fill="#858585" stroke="#111" stroke-width="1.0"/>
<rect x="222.50" y="426.50" width="8.00" height="101.80" fill="#000000" stroke="#111" stroke-width="1.0"/>
<rect x="242.50" y="432.50" width="7.00" height="95.80" fill="#c0c0c0" stroke="#111" stroke-width="1.0"/>
<rect x="249.50" y="399.50" width="8.00" height="128.80" fill="#ffffff" stroke="#111" stroke-width="1.0"/>
<rect x="257.50" y="430.50" width="8.00" height="97.80" fill="#858585" stroke="#111" stroke-width="1.0"/>
<rect x="265.50" y="410.50" width="8.00" height="117.80" fill="#000000" stroke="#111" stroke-width="1.0"/>
<rect x="285.50" y="430.50" width="8.00" height="97.80" fill="#c0c0c0" stroke="#111" stroke-width="1.0"/>
<rect x="293.50" y="380.50" width="8.00" height="147.80" fill="#ffffff" stroke="#111" stroke-width="1.0"/>
<rect x="301.50" y="426.50" width="8.00" height="101.80" fill="#858585" stroke="#111" stroke-width="1.0"/>
<rect x="309.50" y="398.50" width="7.00" height="129.80" fill="#000000" stroke="#111" stroke-width="1.0"/>
<line x1="74.50" y1="496.65" x2="74.50" y2="497.74" stroke="#999999" stroke-width="1.0"/>
<line x1="70.94" y1="496.65" x2="78.06" y2="496.65" stroke="#999999" stroke-width="1.3"/>
<line x1="82.50" y1="495.56" x2="82.50" y2="499.93" stroke="#000" stroke-width="1.0"/>
<line x1="78.94" y1="495.56" x2="86.06" y2="495.56" stroke="#000" stroke-width="1.3"/>
<line x1="78.94" y1="499.93" x2="86.06" y2="499.93" stroke="#000" stroke-width="1.3"/>
<line x1="90.50" y1="495.56" x2="90.50" y2="499.93" stroke="#000" stroke-width="1.0"/>
<line x1="86.94" y1="495.56" x2="94.06" y2="495.56" stroke="#000" stroke-width="1.3"/>
<line x1="86.94" y1="499.93" x2="94.06" y2="499.93" stroke="#000" stroke-width="1.3"/>
<line x1="97.50" y1="494.47" x2="97.50" y2="498.84" stroke="#000" stroke-width="1.0"/>
<line x1="93.94" y1="494.47" x2="101.06" y2="494.47" stroke="#000" stroke-width="1.3"/>
<line x1="93.94" y1="498.84" x2="101.06" y2="498.84" stroke="#000" stroke-width="1.3"/>
<line x1="117.50" y1="478.32" x2="117.50" y2="484.21" stroke="#999999" stroke-width="1.0"/>
<line x1="113.94" y1="478.32" x2="121.06" y2="478.32" stroke="#999999" stroke-width="1.3"/>
<line x1="125.50" y1="452.13" x2="125.50" y2="454.75" stroke="#000" stroke-width="1.0"/>
<line x1="121.94" y1="452.13" x2="129.06" y2="452.13" stroke="#000" stroke-width="1.3"/>
<line x1="121.94" y1="454.75" x2="129.06" y2="454.75" stroke="#000" stroke-width="1.3"/>
<line x1="132.50" y1="479.85" x2="132.50" y2="482.03" stroke="#000" stroke-width="1.0"/>
<line x1="128.94" y1="479.85" x2="136.06" y2="479.85" stroke="#000" stroke-width="1.3"/>
<line x1="128.94" y1="482.03" x2="136.06" y2="482.03" stroke="#000" stroke-width="1.3"/>
<line x1="140.50" y1="461.52" x2="140.50" y2="468.06" stroke="#000" stroke-width="1.0"/>
<line x1="136.94" y1="461.52" x2="144.06" y2="461.52" stroke="#000" stroke-width="1.3"/>
<line x1="136.94" y1="468.06" x2="144.06" y2="468.06" stroke="#000" stroke-width="1.3"/>
<line x1="160.50" y1="450.38" x2="160.50" y2="451.04" stroke="#999999" stroke-width="1.0"/>
<line x1="156.94" y1="450.38" x2="164.06" y2="450.38" stroke="#999999" stroke-width="1.3"/>
<line x1="168.50" y1="430.74" x2="168.50" y2="433.36" stroke="#000" stroke-width="1.0"/>
<line x1="164.94" y1="430.74" x2="172.06" y2="430.74" stroke="#000" stroke-width="1.3"/>
<line x1="164.94" y1="433.36" x2="172.06" y2="433.36" stroke="#000" stroke-width="1.3"/>
<line x1="176.50" y1="447.44" x2="176.50" y2="450.71" stroke="#000" stroke-width="1.0"/>
<line x1="172.94" y1="447.44" x2="180.06" y2="447.44" stroke="#000" stroke-width="1.3"/>
<line x1="172.94" y1="450.71" x2="180.06" y2="450.71" stroke="#000" stroke-width="1.3"/>
<line x1="184.50" y1="436.42" x2="184.50" y2="439.04" stroke="#000" stroke-width="1.0"/>
<line x1="180.94" y1="436.42" x2="188.06" y2="436.42" stroke="#000" stroke-width="1.3"/>
<line x1="180.94" y1="439.04" x2="188.06" y2="439.04" stroke="#000" stroke-width="1.3"/>
<line x1="203.50" y1="435.33" x2="203.50" y2="437.51" stroke="#999999" stroke-width="1.0"/>
<line x1="199.94" y1="435.33" x2="207.06" y2="435.33" stroke="#999999" stroke-width="1.3"/>
<line x1="210.50" y1="416.34" x2="210.50" y2="420.70" stroke="#000" stroke-width="1.0"/>
<line x1="206.94" y1="416.34" x2="214.06" y2="416.34" stroke="#000" stroke-width="1.3"/>
<line x1="206.94" y1="420.70" x2="214.06" y2="420.70" stroke="#000" stroke-width="1.3"/>
<line x1="218.50" y1="438.38" x2="218.50" y2="440.56" stroke="#000" stroke-width="1.0"/>
<line x1="214.94" y1="438.38" x2="222.06" y2="438.38" stroke="#000" stroke-width="1.3"/>
<line x1="214.94" y1="440.56" x2="222.06" y2="440.56" stroke="#000" stroke-width="1.3"/>
<line x1="226.50" y1="423.10" x2="226.50" y2="429.65" stroke="#000" stroke-width="1.0"/>
<line x1="222.94" y1="423.10" x2="230.06" y2="423.10" stroke="#000" stroke-width="1.3"/>
<line x1="222.94" y1="429.65" x2="230.06" y2="429.65" stroke="#000" stroke-width="1.3"/>
<line x1="246.50" y1="426.81" x2="246.50" y2="431.83" stroke="#999999" stroke-width="1.0"/>
<line x1="242.94" y1="426.81" x2="250.06" y2="426.81" stroke="#999999" stroke-width="1.3"/>
<line x1="253.50" y1="396.04" x2="253.50" y2="402.59" stroke="#000" stroke-width="1.0"/>
<line x1="249.94" y1="396.04" x2="257.06" y2="396.04" stroke="#000" stroke-width="1.3"/>
<line x1="249.94" y1="402.59" x2="257.06" y2="402.59" stroke="#000" stroke-width="1.3"/>
<line x1="261.50" y1="427.47" x2="261.50" y2="431.83" stroke="#000" stroke-width="1.0"/>
<line x1="257.94" y1="427.47" x2="265.06" y2="427.47" stroke="#000" stroke-width="1.3"/>
<line x1="257.94" y1="431.83" x2="265.06" y2="431.83" stroke="#000" stroke-width="1.3"/>
<line x1="269.50" y1="407.17" x2="269.50" y2="413.72" stroke="#000" stroke-width="1.0"/>
<line x1="265.94" y1="407.17" x2="273.06" y2="407.17" stroke="#000" stroke-width="1.3"/>
<line x1="265.94" y1="413.72" x2="273.06" y2="413.72" stroke="#000" stroke-width="1.3"/>
<line x1="289.50" y1="424.19" x2="289.50" y2="429.65" stroke="#999999" stroke-width="1.0"/>
<line x1="285.94" y1="424.19" x2="293.06" y2="424.19" stroke="#999999" stroke-width="1.3"/>
<line x1="297.50" y1="372.47" x2="297.50" y2="387.75" stroke="#000" stroke-width="1.0"/>
<line x1="293.94" y1="372.47" x2="301.06" y2="372.47" stroke="#000" stroke-width="1.3"/>
<line x1="293.94" y1="387.75" x2="301.06" y2="387.75" stroke="#000" stroke-width="1.3"/>
<line x1="305.50" y1="423.98" x2="305.50" y2="428.34" stroke="#000" stroke-width="1.0"/>
<line x1="301.94" y1="423.98" x2="309.06" y2="423.98" stroke="#000" stroke-width="1.3"/>
<line x1="301.94" y1="428.34" x2="309.06" y2="428.34" stroke="#000" stroke-width="1.3"/>
<line x1="313.50" y1="394.29" x2="313.50" y2="400.84" stroke="#000" stroke-width="1.0"/>
<line x1="309.94" y1="394.29" x2="317.06" y2="394.29" stroke="#000" stroke-width="1.3"/>
<line x1="309.94" y1="400.84" x2="317.06" y2="400.84" stroke="#000" stroke-width="1.3"/>
<line x1="64.70" y1="352.70" x2="64.70" y2="529.50" stroke="#000" stroke-width="2.4"/>
<line x1="63.50" y1="528.30" x2="323.60" y2="528.30" stroke="#000" stroke-width="2.4"/>
<line x1="59.20" y1="528.30" x2="64.70" y2="528.30" stroke="#000" stroke-width="2.4"/>
<text x="57.80" y="534.60" font-size="17.4" text-anchor="end">0</text>
<line x1="59.20" y1="484.65" x2="64.70" y2="484.65" stroke="#000" stroke-width="2.0"/>
<text x="57.80" y="490.00" font-size="17.4" text-anchor="end">20</text>
<line x1="59.20" y1="441.00" x2="64.70" y2="441.00" stroke="#000" stroke-width="2.0"/>
<text x="57.80" y="448.50" font-size="17.4" text-anchor="end">40</text>
<line x1="59.20" y1="397.35" x2="64.70" y2="397.35" stroke="#000" stroke-width="2.0"/>
<text x="57.80" y="405.10" font-size="17.4" text-anchor="end">60</text>
<line x1="59.20" y1="353.70" x2="64.70" y2="353.70" stroke="#000" stroke-width="2.0"/>
<text x="57.80" y="361.80" font-size="17.4" text-anchor="end">80</text>
<text x="86.90" y="552.50" font-size="17.4" text-anchor="middle">0</text>
<text x="130.80" y="552.50" font-size="17.4" text-anchor="middle">2</text>
<text x="169.70" y="552.50" font-size="17.4" text-anchor="middle">4</text>
<text x="214.00" y="552.50" font-size="17.4" text-anchor="middle">8</text>
<text x="257.60" y="552.50" font-size="17.4" text-anchor="middle">24</text>
<text x="301.50" y="552.50" font-size="17.4" text-anchor="middle">48</text>
<text x="3.90" y="552.20" font-size="16.9">Time (h)</text>
<text transform="translate(23.80,488.50) rotate(-90)" font-size="17.2">TNF<tspan dx="11.5">(ng/ml)</tspan></text>
<line x1="115.90" y1="446.10" x2="132.80" y2="446.10" stroke="#000" stroke-width="1.3"/>
<polygon points="122.45,440.55 123.20,442.42 125.21,442.56 123.66,443.85 124.15,445.80 122.45,444.73 120.75,445.80 121.24,443.85 119.69,442.56 121.70,442.42" fill="#111" stroke="#111" stroke-width="0.4" stroke-linejoin="round"/>
<polygon points="129.45,440.55 130.20,442.42 132.21,442.56 130.66,443.85 131.15,445.80 129.45,444.73 127.75,445.80 128.24,443.85 126.69,442.56 128.70,442.42" fill="#111" stroke="#111" stroke-width="0.4" stroke-linejoin="round"/>
<line x1="124.00" y1="435.40" x2="141.40" y2="435.40" stroke="#000" stroke-width="1.3"/>
<polygon points="130.80,429.85 131.55,431.72 133.56,431.86 132.01,433.15 132.50,435.10 130.80,434.03 129.10,435.10 129.59,433.15 128.04,431.86 130.05,431.72" fill="#111" stroke="#111" stroke-width="0.4" stroke-linejoin="round"/>
<polygon points="137.80,429.85 138.55,431.72 140.56,431.86 139.01,433.15 139.50,435.10 137.80,434.03 136.10,435.10 136.59,433.15 135.04,431.86 137.05,431.72" fill="#111" stroke="#111" stroke-width="0.4" stroke-linejoin="round"/>
<line x1="132.80" y1="426.20" x2="148.90" y2="426.20" stroke="#000" stroke-width="1.3"/>
<polygon points="138.95,420.65 139.70,422.52 141.71,422.66 140.16,423.95 140.65,425.90 138.95,424.83 137.25,425.90 137.74,423.95 136.19,422.66 138.20,422.52" fill="#111" stroke="#111" stroke-width="0.4" stroke-linejoin="round"/>
<polygon points="145.95,420.65 146.70,422.52 148.71,422.66 147.16,423.95 147.65,425.90 145.95,424.83 144.25,425.90 144.74,423.95 143.19,422.66 145.20,422.52" fill="#111" stroke="#111" stroke-width="0.4" stroke-linejoin="round"/>
<line x1="157.50" y1="428.00" x2="174.40" y2="428.00" stroke="#000" stroke-width="1.3"/>
<polygon points="164.05,422.45 164.80,424.32 166.81,424.46 165.26,425.75 165.75,427.70 164.05,426.63 162.35,427.70 162.84,425.75 161.29,424.46 163.30,424.32" fill="#111" stroke="#111" stroke-width="0.4" stroke-linejoin="round"/>
<polygon points="171.05,422.45 171.80,424.32 173.81,424.46 172.26,425.75 172.75,427.70 171.05,426.63 169.35,427.70 169.84,425.75 168.29,424.46 170.30,424.32" fill="#111" stroke="#111" stroke-width="0.4" stroke-linejoin="round"/>
<line x1="165.90" y1="417.80" x2="182.90" y2="417.80" stroke="#000" stroke-width="1.3"/>
<polygon points="172.50,412.25 173.25,414.12 175.26,414.26 173.71,415.55 174.20,417.50 172.50,416.43 170.80,417.50 171.29,415.55 169.74,414.26 171.75,414.12" fill="#111" stroke="#111" stroke-width="0.4" stroke-linejoin="round"/>
<polygon points="179.50,412.25 180.25,414.12 182.26,414.26 180.71,415.55 181.20,417.50 179.50,416.43 177.80,417.50 178.29,415.55 176.74,414.26 178.75,414.12" fill="#111" stroke="#111" stroke-width="0.4" stroke-linejoin="round"/>
<line x1="173.30" y1="408.00" x2="190.70" y2="408.00" stroke="#000" stroke-width="1.3"/>
<polygon points="182.00,401.66 182.76,403.56 184.81,403.70 183.23,405.01 183.73,407.00 182.00,405.91 180.27,407.00 180.77,405.01 179.19,403.70 181.24,403.56" fill="#111" stroke="#111" stroke-width="0.4" stroke-linejoin="round"/>
<line x1="199.80" y1="413.00" x2="217.50" y2="413.00" stroke="#000" stroke-width="1.3"/>
<polygon points="206.75,407.45 207.50,409.32 209.51,409.46 207.96,410.75 208.45,412.70 206.75,411.63 205.05,412.70 205.54,410.75 203.99,409.46 206.00,409.32" fill="#111" stroke="#111" stroke-width="0.4" stroke-linejoin="round"/>
<polygon points="213.75,407.45 214.50,409.32 216.51,409.46 214.96,410.75 215.45,412.70 213.75,411.63 212.05,412.70 212.54,410.75 210.99,409.46 213.00,409.32" fill="#111" stroke="#111" stroke-width="0.4" stroke-linejoin="round"/>
<line x1="208.50" y1="402.60" x2="225.40" y2="402.60" stroke="#000" stroke-width="1.3"/>
<polygon points="215.05,397.05 215.80,398.92 217.81,399.06 216.26,400.35 216.75,402.30 215.05,401.23 213.35,402.30 213.84,400.35 212.29,399.06 214.30,398.92" fill="#111" stroke="#111" stroke-width="0.4" stroke-linejoin="round"/>
<polygon points="222.05,397.05 222.80,398.92 224.81,399.06 223.26,400.35 223.75,402.30 222.05,401.23 220.35,402.30 220.84,400.35 219.29,399.06 221.30,398.92" fill="#111" stroke="#111" stroke-width="0.4" stroke-linejoin="round"/>
<line x1="216.70" y1="392.50" x2="233.90" y2="392.50" stroke="#000" stroke-width="1.3"/>
<polygon points="223.40,386.95 224.15,388.82 226.16,388.96 224.61,390.25 225.10,392.20 223.40,391.13 221.70,392.20 222.19,390.25 220.64,388.96 222.65,388.82" fill="#111" stroke="#111" stroke-width="0.4" stroke-linejoin="round"/>
<polygon points="230.40,386.95 231.15,388.82 233.16,388.96 231.61,390.25 232.10,392.20 230.40,391.13 228.70,392.20 229.19,390.25 227.64,388.96 229.65,388.82" fill="#111" stroke="#111" stroke-width="0.4" stroke-linejoin="round"/>
<line x1="243.50" y1="392.70" x2="261.20" y2="392.70" stroke="#000" stroke-width="1.3"/>
<polygon points="250.45,387.15 251.20,389.02 253.21,389.16 251.66,390.45 252.15,392.40 250.45,391.33 248.75,392.40 249.24,390.45 247.69,389.16 249.70,389.02" fill="#111" stroke="#111" stroke-width="0.4" stroke-linejoin="round"/>
<polygon points="257.45,387.15 258.20,389.02 260.21,389.16 258.66,390.45 259.15,392.40 257.45,391.33 255.75,392.40 256.24,390.45 254.69,389.16 256.70,389.02" fill="#111" stroke="#111" stroke-width="0.4" stroke-linejoin="round"/>
<line x1="252.20" y1="382.60" x2="269.10" y2="382.60" stroke="#000" stroke-width="1.3"/>
<polygon points="258.75,377.05 259.50,378.92 261.51,379.06 259.96,380.35 260.45,382.30 258.75,381.23 257.05,382.30 257.54,380.35 255.99,379.06 258.00,378.92" fill="#111" stroke="#111" stroke-width="0.4" stroke-linejoin="round"/>
<polygon points="265.75,377.05 266.50,378.92 268.51,379.06 266.96,380.35 267.45,382.30 265.75,381.23 264.05,382.30 264.54,380.35 262.99,379.06 265.00,378.92" fill="#111" stroke="#111" stroke-width="0.4" stroke-linejoin="round"/>
<line x1="259.80" y1="372.70" x2="277.30" y2="372.70" stroke="#000" stroke-width="1.3"/>
<polygon points="266.65,367.15 267.40,369.02 269.41,369.16 267.86,370.45 268.35,372.40 266.65,371.33 264.95,372.40 265.44,370.45 263.89,369.16 265.90,369.02" fill="#111" stroke="#111" stroke-width="0.4" stroke-linejoin="round"/>
<polygon points="273.65,367.15 274.40,369.02 276.41,369.16 274.86,370.45 275.35,372.40 273.65,371.33 271.95,372.40 272.44,370.45 270.89,369.16 272.90,369.02" fill="#111" stroke="#111" stroke-width="0.4" stroke-linejoin="round"/>
<line x1="286.00" y1="370.20" x2="303.50" y2="370.20" stroke="#000" stroke-width="1.3"/>
<polygon points="292.85,364.65 293.60,366.52 295.61,366.66 294.06,367.95 294.55,369.90 292.85,368.83 291.15,369.90 291.64,367.95 290.09,366.66 292.10,366.52" fill="#111" stroke="#111" stroke-width="0.4" stroke-linejoin="round"/>
<polygon points="299.85,364.65 300.60,366.52 302.61,366.66 301.06,367.95 301.55,369.90 299.85,368.83 298.15,369.90 298.64,367.95 297.09,366.66 299.10,366.52" fill="#111" stroke="#111" stroke-width="0.4" stroke-linejoin="round"/>
<line x1="294.50" y1="359.50" x2="312.00" y2="359.50" stroke="#000" stroke-width="1.3"/>
<polygon points="301.35,353.95 302.10,355.82 304.11,355.96 302.56,357.25 303.05,359.20 301.35,358.13 299.65,359.20 300.14,357.25 298.59,355.96 300.60,355.82" fill="#111" stroke="#111" stroke-width="0.4" stroke-linejoin="round"/>
<polygon points="308.35,353.95 309.10,355.82 311.11,355.96 309.56,357.25 310.05,359.20 308.35,358.13 306.65,359.20 307.14,357.25 305.59,355.96 307.60,355.82" fill="#111" stroke="#111" stroke-width="0.4" stroke-linejoin="round"/>
<line x1="303.00" y1="349.60" x2="319.90" y2="349.60" stroke="#000" stroke-width="1.3"/>
<polygon points="309.55,344.05 310.30,345.92 312.31,346.06 310.76,347.35 311.25,349.30 309.55,348.23 307.85,349.30 308.34,347.35 306.79,346.06 308.80,345.92" fill="#111" stroke="#111" stroke-width="0.4" stroke-linejoin="round"/>
<polygon points="316.55,344.05 317.30,345.92 319.31,346.06 317.76,347.35 318.25,349.30 316.55,348.23 314.85,349.30 315.34,347.35 313.79,346.06 315.80,345.92" fill="#111" stroke="#111" stroke-width="0.4" stroke-linejoin="round"/>
<text x="1.50" y="301.00" font-size="24" font-weight="bold">c</text>
<rect x="75.60" y="297.90" width="8.00" height="8.00" fill="#c0c0c0" stroke="#1a1a1a" stroke-width="1.2"/>
<rect x="75.60" y="316.00" width="8.00" height="8.00" fill="#ffffff" stroke="#1a1a1a" stroke-width="1.2"/>
<rect x="75.60" y="333.80" width="8.00" height="7.70" fill="#858585" stroke="#1a1a1a" stroke-width="1.2"/>
<rect x="75.60" y="351.60" width="8.00" height="7.30" fill="#000000" stroke="#1a1a1a" stroke-width="1.2"/>
<text x="87.00" y="309.80" font-size="17.4">WT BCG</text>
<path d="M91.49,324.03 L95.30,314.62 L99.11,324.03 Z" fill="none" stroke="#111" stroke-width="1.15" stroke-linejoin="miter"/>
<text x="105.00" y="326.00" font-size="17.4"><tspan font-style="italic">mce2E</tspan></text>
<path d="M91.49,341.82 L95.30,332.42 L99.11,341.82 Z" fill="none" stroke="#111" stroke-width="1.15" stroke-linejoin="miter"/>
<text x="105.00" y="343.70" font-size="17.4"><tspan font-style="italic">mce2E:mce2E</tspan></text>
<path d="M91.49,359.23 L95.30,349.82 L99.11,359.23 Z" fill="none" stroke="#111" stroke-width="1.15" stroke-linejoin="miter"/>
<text x="105.00" y="361.20" font-size="17.4"><tspan font-style="italic">mce2E:mce2E</tspan> AAA</text>
<rect x="422.50" y="516.50" width="8.00" height="11.00" fill="#c0c0c0" stroke="#111" stroke-width="1.0"/>
<rect x="430.50" y="513.50" width="8.00" height="14.00" fill="#ffffff" stroke="#111" stroke-width="1.0"/>
<rect x="438.50" y="516.50" width="8.00" height="11.00" fill="#858585" stroke="#111" stroke-width="1.0"/>
<rect x="446.50" y="516.50" width="8.00" height="11.00" fill="#000000" stroke="#111" stroke-width="1.0"/>
<rect x="465.50" y="507.50" width="9.00" height="20.00" fill="#c0c0c0" stroke="#111" stroke-width="1.0"/>
<rect x="474.50" y="482.50" width="8.00" height="45.00" fill="#ffffff" stroke="#111" stroke-width="1.0"/>
<rect x="482.50" y="507.50" width="8.00" height="20.00" fill="#858585" stroke="#111" stroke-width="1.0"/>
<rect x="490.50" y="490.50" width="8.00" height="37.00" fill="#000000" stroke="#111" stroke-width="1.0"/>
<rect x="510.50" y="491.50" width="8.00" height="36.00" fill="#c0c0c0" stroke="#111" stroke-width="1.0"/>
<rect x="518.50" y="468.50" width="9.00" height="59.00" fill="#ffffff" stroke="#111" stroke-width="1.0"/>
<rect x="527.50" y="491.50" width="8.00" height="36.00" fill="#858585" stroke="#111" stroke-width="1.0"/>
<rect x="535.50" y="475.50" width="8.00" height="52.00" fill="#000000" stroke="#111" stroke-width="1.0"/>
<rect x="554.50" y="475.50" width="8.00" height="52.00" fill="#c0c0c0" stroke="#111" stroke-width="1.0"/>
<rect x="562.50" y="446.50" width="8.00" height="81.00" fill="#ffffff" stroke="#111" stroke-width="1.0"/>
<rect x="570.50" y="475.50" width="8.00" height="52.00" fill="#858585" stroke="#111" stroke-width="1.0"/>
<rect x="578.50" y="455.50" width="9.00" height="72.00" fill="#000000" stroke="#111" stroke-width="1.0"/>
<rect x="598.50" y="449.50" width="8.00" height="78.00" fill="#c0c0c0" stroke="#111" stroke-width="1.0"/>
<rect x="606.50" y="422.50" width="8.00" height="105.00" fill="#ffffff" stroke="#111" stroke-width="1.0"/>
<rect x="614.50" y="448.50" width="8.00" height="79.00" fill="#858585" stroke="#111" stroke-width="1.0"/>
<rect x="622.50" y="429.50" width="8.00" height="98.00" fill="#000000" stroke="#111" stroke-width="1.0"/>
<rect x="643.50" y="417.50" width="8.00" height="110.00" fill="#c0c0c0" stroke="#111" stroke-width="1.0"/>
<rect x="651.50" y="381.50" width="8.00" height="146.00" fill="#ffffff" stroke="#111" stroke-width="1.0"/>
<rect x="659.50" y="423.50" width="8.00" height="104.00" fill="#858585" stroke="#111" stroke-width="1.0"/>
<rect x="667.50" y="397.50" width="8.00" height="130.00" fill="#000000" stroke="#111" stroke-width="1.0"/>
<line x1="426.50" y1="513.95" x2="426.50" y2="518.32" stroke="#000" stroke-width="1.0"/>
<line x1="422.75" y1="513.95" x2="430.25" y2="513.95" stroke="#000" stroke-width="1.3"/>
<line x1="422.75" y1="518.32" x2="430.25" y2="518.32" stroke="#000" stroke-width="1.3"/>
<line x1="434.50" y1="507.39" x2="434.50" y2="519.05" stroke="#000" stroke-width="1.0"/>
<line x1="430.75" y1="507.39" x2="438.25" y2="507.39" stroke="#000" stroke-width="1.3"/>
<line x1="430.75" y1="519.05" x2="438.25" y2="519.05" stroke="#000" stroke-width="1.3"/>
<line x1="442.50" y1="509.58" x2="442.50" y2="522.69" stroke="#000" stroke-width="1.0"/>
<line x1="438.75" y1="509.58" x2="446.25" y2="509.58" stroke="#000" stroke-width="1.3"/>
<line x1="438.75" y1="522.69" x2="446.25" y2="522.69" stroke="#000" stroke-width="1.3"/>
<line x1="450.50" y1="512.64" x2="450.50" y2="518.47" stroke="#000" stroke-width="1.0"/>
<line x1="446.75" y1="512.64" x2="454.25" y2="512.64" stroke="#000" stroke-width="1.3"/>
<line x1="446.75" y1="518.47" x2="454.25" y2="518.47" stroke="#000" stroke-width="1.3"/>
<line x1="470.50" y1="503.90" x2="470.50" y2="509.72" stroke="#000" stroke-width="1.0"/>
<line x1="466.75" y1="503.90" x2="474.25" y2="503.90" stroke="#000" stroke-width="1.3"/>
<line x1="466.75" y1="509.72" x2="474.25" y2="509.72" stroke="#000" stroke-width="1.3"/>
<line x1="478.50" y1="474.61" x2="478.50" y2="489.18" stroke="#000" stroke-width="1.0"/>
<line x1="474.75" y1="474.61" x2="482.25" y2="474.61" stroke="#000" stroke-width="1.3"/>
<line x1="474.75" y1="489.18" x2="482.25" y2="489.18" stroke="#000" stroke-width="1.3"/>
<line x1="486.50" y1="503.17" x2="486.50" y2="510.45" stroke="#000" stroke-width="1.0"/>
<line x1="482.75" y1="503.17" x2="490.25" y2="503.17" stroke="#000" stroke-width="1.3"/>
<line x1="482.75" y1="510.45" x2="490.25" y2="510.45" stroke="#000" stroke-width="1.3"/>
<line x1="494.50" y1="488.16" x2="494.50" y2="491.07" stroke="#000" stroke-width="1.0"/>
<line x1="490.75" y1="488.16" x2="498.25" y2="488.16" stroke="#000" stroke-width="1.3"/>
<line x1="490.75" y1="491.07" x2="498.25" y2="491.07" stroke="#000" stroke-width="1.3"/>
<line x1="514.50" y1="486.27" x2="514.50" y2="496.47" stroke="#000" stroke-width="1.0"/>
<line x1="510.75" y1="486.27" x2="518.25" y2="486.27" stroke="#000" stroke-width="1.3"/>
<line x1="510.75" y1="496.47" x2="518.25" y2="496.47" stroke="#000" stroke-width="1.3"/>
<line x1="523.50" y1="464.12" x2="523.50" y2="471.41" stroke="#000" stroke-width="1.0"/>
<line x1="519.75" y1="464.12" x2="527.25" y2="464.12" stroke="#000" stroke-width="1.3"/>
<line x1="519.75" y1="471.41" x2="527.25" y2="471.41" stroke="#000" stroke-width="1.3"/>
<line x1="531.50" y1="486.27" x2="531.50" y2="496.47" stroke="#000" stroke-width="1.0"/>
<line x1="527.75" y1="486.27" x2="535.25" y2="486.27" stroke="#000" stroke-width="1.3"/>
<line x1="527.75" y1="496.47" x2="535.25" y2="496.47" stroke="#000" stroke-width="1.3"/>
<line x1="539.50" y1="473.59" x2="539.50" y2="476.50" stroke="#000" stroke-width="1.0"/>
<line x1="535.75" y1="473.59" x2="543.25" y2="473.59" stroke="#000" stroke-width="1.3"/>
<line x1="535.75" y1="476.50" x2="543.25" y2="476.50" stroke="#000" stroke-width="1.3"/>
<line x1="558.50" y1="473.59" x2="558.50" y2="476.50" stroke="#000" stroke-width="1.0"/>
<line x1="554.75" y1="473.59" x2="562.25" y2="473.59" stroke="#000" stroke-width="1.3"/>
<line x1="554.75" y1="476.50" x2="562.25" y2="476.50" stroke="#000" stroke-width="1.3"/>
<line x1="566.50" y1="441.54" x2="566.50" y2="450.28" stroke="#000" stroke-width="1.0"/>
<line x1="562.75" y1="441.54" x2="570.25" y2="441.54" stroke="#000" stroke-width="1.3"/>
<line x1="562.75" y1="450.28" x2="570.25" y2="450.28" stroke="#000" stroke-width="1.3"/>
<line x1="574.50" y1="469.95" x2="574.50" y2="480.15" stroke="#000" stroke-width="1.0"/>
<line x1="570.75" y1="469.95" x2="578.25" y2="469.95" stroke="#000" stroke-width="1.3"/>
<line x1="570.75" y1="480.15" x2="578.25" y2="480.15" stroke="#000" stroke-width="1.3"/>
<line x1="583.50" y1="454.65" x2="583.50" y2="454.65" stroke="#000" stroke-width="1.0"/>
<line x1="579.75" y1="454.65" x2="587.25" y2="454.65" stroke="#000" stroke-width="1.3"/>
<line x1="602.50" y1="443.58" x2="602.50" y2="455.23" stroke="#000" stroke-width="1.0"/>
<line x1="598.75" y1="443.58" x2="606.25" y2="443.58" stroke="#000" stroke-width="1.3"/>
<line x1="598.75" y1="455.23" x2="606.25" y2="455.23" stroke="#000" stroke-width="1.3"/>
<line x1="610.50" y1="416.04" x2="610.50" y2="427.70" stroke="#000" stroke-width="1.0"/>
<line x1="606.75" y1="416.04" x2="614.25" y2="416.04" stroke="#000" stroke-width="1.3"/>
<line x1="606.75" y1="427.70" x2="614.25" y2="427.70" stroke="#000" stroke-width="1.3"/>
<line x1="618.50" y1="446.64" x2="618.50" y2="449.55" stroke="#000" stroke-width="1.0"/>
<line x1="614.75" y1="446.64" x2="622.25" y2="446.64" stroke="#000" stroke-width="1.3"/>
<line x1="614.75" y1="449.55" x2="622.25" y2="449.55" stroke="#000" stroke-width="1.3"/>
<line x1="626.50" y1="424.05" x2="626.50" y2="434.25" stroke="#000" stroke-width="1.0"/>
<line x1="622.75" y1="424.05" x2="630.25" y2="424.05" stroke="#000" stroke-width="1.3"/>
<line x1="622.75" y1="434.25" x2="630.25" y2="434.25" stroke="#000" stroke-width="1.3"/>
<line x1="647.50" y1="412.40" x2="647.50" y2="422.60" stroke="#000" stroke-width="1.0"/>
<line x1="643.75" y1="412.40" x2="651.25" y2="412.40" stroke="#000" stroke-width="1.3"/>
<line x1="643.75" y1="422.60" x2="651.25" y2="422.60" stroke="#000" stroke-width="1.3"/>
<line x1="655.50" y1="372.33" x2="655.50" y2="389.81" stroke="#000" stroke-width="1.0"/>
<line x1="651.75" y1="372.33" x2="659.25" y2="372.33" stroke="#000" stroke-width="1.3"/>
<line x1="651.75" y1="389.81" x2="659.25" y2="389.81" stroke="#000" stroke-width="1.3"/>
<line x1="663.50" y1="419.68" x2="663.50" y2="425.51" stroke="#000" stroke-width="1.0"/>
<line x1="659.75" y1="419.68" x2="667.25" y2="419.68" stroke="#000" stroke-width="1.3"/>
<line x1="659.75" y1="425.51" x2="667.25" y2="425.51" stroke="#000" stroke-width="1.3"/>
<line x1="671.50" y1="392.73" x2="671.50" y2="401.47" stroke="#000" stroke-width="1.0"/>
<line x1="667.75" y1="392.73" x2="675.25" y2="392.73" stroke="#000" stroke-width="1.3"/>
<line x1="667.75" y1="401.47" x2="675.25" y2="401.47" stroke="#000" stroke-width="1.3"/>
<line x1="416.10" y1="351.70" x2="416.10" y2="528.70" stroke="#000" stroke-width="2.4"/>
<line x1="414.90" y1="527.50" x2="682.80" y2="527.50" stroke="#000" stroke-width="2.4"/>
<line x1="410.60" y1="527.50" x2="416.10" y2="527.50" stroke="#000" stroke-width="2.4"/>
<text x="402.80" y="533.30" font-size="17.4" text-anchor="end">0</text>
<line x1="410.60" y1="483.79" x2="416.10" y2="483.79" stroke="#000" stroke-width="2.0"/>
<text x="402.80" y="489.40" font-size="17.4" text-anchor="end">3</text>
<line x1="410.60" y1="440.08" x2="416.10" y2="440.08" stroke="#000" stroke-width="2.0"/>
<text x="402.80" y="446.30" font-size="17.4" text-anchor="end">6</text>
<line x1="410.60" y1="396.37" x2="416.10" y2="396.37" stroke="#000" stroke-width="2.0"/>
<text x="402.80" y="402.00" font-size="17.4" text-anchor="end">9</text>
<line x1="410.60" y1="352.66" x2="416.10" y2="352.66" stroke="#000" stroke-width="2.0"/>
<text x="402.80" y="358.00" font-size="17.4" text-anchor="end">12</text>
<text x="436.90" y="552.50" font-size="17.4" text-anchor="middle">0</text>
<text x="482.00" y="552.50" font-size="17.4" text-anchor="middle">2</text>
<text x="525.80" y="552.50" font-size="17.4" text-anchor="middle">4</text>
<text x="569.70" y="552.50" font-size="17.4" text-anchor="middle">8</text>
<text x="614.30" y="552.50" font-size="17.4" text-anchor="middle">24</text>
<text x="657.40" y="552.50" font-size="17.4" text-anchor="middle">48</text>
<text x="354.00" y="549.90" font-size="17.1">Time (h)</text>
<text transform="translate(378.00,484.30) rotate(-90)" font-size="17">IL-6 (ng/ml)</text>
<line x1="467.30" y1="467.00" x2="484.60" y2="467.00" stroke="#000" stroke-width="1.3"/>
<polygon points="473.80,461.18 474.59,463.15 476.70,463.29 475.08,464.65 475.59,466.70 473.80,465.57 472.01,466.70 472.52,464.65 470.90,463.29 473.01,463.15" fill="#111" stroke="#111" stroke-width="0.4" stroke-linejoin="round"/>
<polygon points="481.10,461.18 481.89,463.15 484.00,463.29 482.38,464.65 482.89,466.70 481.10,465.57 479.31,466.70 479.82,464.65 478.20,463.29 480.31,463.15" fill="#111" stroke="#111" stroke-width="0.4" stroke-linejoin="round"/>
<line x1="475.20" y1="455.80" x2="492.30" y2="455.80" stroke="#000" stroke-width="1.3"/>
<polygon points="481.60,449.98 482.39,451.95 484.50,452.09 482.88,453.45 483.39,455.50 481.60,454.37 479.81,455.50 480.32,453.45 478.70,452.09 480.81,451.95" fill="#111" stroke="#111" stroke-width="0.4" stroke-linejoin="round"/>
<polygon points="488.90,449.98 489.69,451.95 491.80,452.09 490.18,453.45 490.69,455.50 488.90,454.37 487.11,455.50 487.62,453.45 486.00,452.09 488.11,451.95" fill="#111" stroke="#111" stroke-width="0.4" stroke-linejoin="round"/>
<line x1="482.90" y1="446.90" x2="500.40" y2="446.90" stroke="#000" stroke-width="1.3"/>
<polygon points="489.50,441.08 490.29,443.05 492.40,443.19 490.78,444.55 491.29,446.60 489.50,445.47 487.71,446.60 488.22,444.55 486.60,443.19 488.71,443.05" fill="#111" stroke="#111" stroke-width="0.4" stroke-linejoin="round"/>
<polygon points="496.80,441.08 497.59,443.05 499.70,443.19 498.08,444.55 498.59,446.60 496.80,445.47 495.01,446.60 495.52,444.55 493.90,443.19 496.01,443.05" fill="#111" stroke="#111" stroke-width="0.4" stroke-linejoin="round"/>
<line x1="510.30" y1="456.90" x2="527.30" y2="456.90" stroke="#000" stroke-width="1.3"/>
<polygon points="516.65,451.08 517.44,453.05 519.55,453.19 517.93,454.55 518.44,456.60 516.65,455.47 514.86,456.60 515.37,454.55 513.75,453.19 515.86,453.05" fill="#111" stroke="#111" stroke-width="0.4" stroke-linejoin="round"/>
<polygon points="523.95,451.08 524.74,453.05 526.85,453.19 525.23,454.55 525.74,456.60 523.95,455.47 522.16,456.60 522.67,454.55 521.05,453.19 523.16,453.05" fill="#111" stroke="#111" stroke-width="0.4" stroke-linejoin="round"/>
<line x1="518.40" y1="446.40" x2="535.50" y2="446.40" stroke="#000" stroke-width="1.3"/>
<polygon points="524.80,440.58 525.59,442.55 527.70,442.69 526.08,444.05 526.59,446.10 524.80,444.97 523.01,446.10 523.52,444.05 521.90,442.69 524.01,442.55" fill="#111" stroke="#111" stroke-width="0.4" stroke-linejoin="round"/>
<polygon points="532.10,440.58 532.89,442.55 535.00,442.69 533.38,444.05 533.89,446.10 532.10,444.97 530.31,446.10 530.82,444.05 529.20,442.69 531.31,442.55" fill="#111" stroke="#111" stroke-width="0.4" stroke-linejoin="round"/>
<line x1="526.10" y1="437.10" x2="543.20" y2="437.10" stroke="#000" stroke-width="1.3"/>
<polygon points="532.50,431.28 533.29,433.25 535.40,433.39 533.78,434.75 534.29,436.80 532.50,435.67 530.71,436.80 531.22,434.75 529.60,433.39 531.71,433.25" fill="#111" stroke="#111" stroke-width="0.4" stroke-linejoin="round"/>
<polygon points="539.80,431.28 540.59,433.25 542.70,433.39 541.08,434.75 541.59,436.80 539.80,435.67 538.01,436.80 538.52,434.75 536.90,433.39 539.01,433.25" fill="#111" stroke="#111" stroke-width="0.4" stroke-linejoin="round"/>
<line x1="553.50" y1="432.90" x2="571.00" y2="432.90" stroke="#000" stroke-width="1.3"/>
<polygon points="560.10,427.08 560.89,429.05 563.00,429.19 561.38,430.55 561.89,432.60 560.10,431.47 558.31,432.60 558.82,430.55 557.20,429.19 559.31,429.05" fill="#111" stroke="#111" stroke-width="0.4" stroke-linejoin="round"/>
<polygon points="567.40,427.08 568.19,429.05 570.30,429.19 568.68,430.55 569.19,432.60 567.40,431.47 565.61,432.60 566.12,430.55 564.50,429.19 566.61,429.05" fill="#111" stroke="#111" stroke-width="0.4" stroke-linejoin="round"/>
<line x1="561.50" y1="422.40" x2="578.50" y2="422.40" stroke="#000" stroke-width="1.3"/>
<polygon points="567.85,416.58 568.64,418.55 570.75,418.69 569.13,420.05 569.64,422.10 567.85,420.97 566.06,422.10 566.57,420.05 564.95,418.69 567.06,418.55" fill="#111" stroke="#111" stroke-width="0.4" stroke-linejoin="round"/>
<polygon points="575.15,416.58 575.94,418.55 578.05,418.69 576.43,420.05 576.94,422.10 575.15,420.97 573.36,422.10 573.87,420.05 572.25,418.69 574.36,418.55" fill="#111" stroke="#111" stroke-width="0.4" stroke-linejoin="round"/>
<line x1="569.10" y1="412.70" x2="586.60" y2="412.70" stroke="#000" stroke-width="1.3"/>
<polygon points="575.70,406.88 576.49,408.85 578.60,408.99 576.98,410.35 577.49,412.40 575.70,411.27 573.91,412.40 574.42,410.35 572.80,408.99 574.91,408.85" fill="#111" stroke="#111" stroke-width="0.4" stroke-linejoin="round"/>
<polygon points="583.00,406.88 583.79,408.85 585.90,408.99 584.28,410.35 584.79,412.40 583.00,411.27 581.21,412.40 581.72,410.35 580.10,408.99 582.21,408.85" fill="#111" stroke="#111" stroke-width="0.4" stroke-linejoin="round"/>
<line x1="596.00" y1="409.70" x2="612.70" y2="409.70" stroke="#000" stroke-width="1.3"/>
<polygon points="602.20,403.88 602.99,405.85 605.10,405.99 603.48,407.35 603.99,409.40 602.20,408.27 600.41,409.40 600.92,407.35 599.30,405.99 601.41,405.85" fill="#111" stroke="#111" stroke-width="0.4" stroke-linejoin="round"/>
<polygon points="609.50,403.88 610.29,405.85 612.40,405.99 610.78,407.35 611.29,409.40 609.50,408.27 607.71,409.40 608.22,407.35 606.60,405.99 608.71,405.85" fill="#111" stroke="#111" stroke-width="0.4" stroke-linejoin="round"/>
<line x1="604.10" y1="399.20" x2="621.30" y2="399.20" stroke="#000" stroke-width="1.3"/>
<polygon points="610.55,393.38 611.34,395.35 613.45,395.49 611.83,396.85 612.34,398.90 610.55,397.77 608.76,398.90 609.27,396.85 607.65,395.49 609.76,395.35" fill="#111" stroke="#111" stroke-width="0.4" stroke-linejoin="round"/>
<polygon points="617.85,393.38 618.64,395.35 620.75,395.49 619.13,396.85 619.64,398.90 617.85,397.77 616.06,398.90 616.57,396.85 614.95,395.49 617.06,395.35" fill="#111" stroke="#111" stroke-width="0.4" stroke-linejoin="round"/>
<line x1="611.60" y1="389.20" x2="628.90" y2="389.20" stroke="#000" stroke-width="1.3"/>
<polygon points="618.10,383.38 618.89,385.35 621.00,385.49 619.38,386.85 619.89,388.90 618.10,387.77 616.31,388.90 616.82,386.85 615.20,385.49 617.31,385.35" fill="#111" stroke="#111" stroke-width="0.4" stroke-linejoin="round"/>
<polygon points="625.40,383.38 626.19,385.35 628.30,385.49 626.68,386.85 627.19,388.90 625.40,387.77 623.61,388.90 624.12,386.85 622.50,385.49 624.61,385.35" fill="#111" stroke="#111" stroke-width="0.4" stroke-linejoin="round"/>
<line x1="639.60" y1="365.80" x2="656.60" y2="365.80" stroke="#000" stroke-width="1.3"/>
<polygon points="645.95,359.98 646.74,361.95 648.85,362.09 647.23,363.45 647.74,365.50 645.95,364.37 644.16,365.50 644.67,363.45 643.05,362.09 645.16,361.95" fill="#111" stroke="#111" stroke-width="0.4" stroke-linejoin="round"/>
<polygon points="653.25,359.98 654.04,361.95 656.15,362.09 654.53,363.45 655.04,365.50 653.25,364.37 651.46,365.50 651.97,363.45 650.35,362.09 652.46,361.95" fill="#111" stroke="#111" stroke-width="0.4" stroke-linejoin="round"/>
<line x1="647.70" y1="355.80" x2="664.70" y2="355.80" stroke="#000" stroke-width="1.3"/>
<polygon points="654.05,349.98 654.84,351.95 656.95,352.09 655.33,353.45 655.84,355.50 654.05,354.37 652.26,355.50 652.77,353.45 651.15,352.09 653.26,351.95" fill="#111" stroke="#111" stroke-width="0.4" stroke-linejoin="round"/>
<polygon points="661.35,349.98 662.14,351.95 664.25,352.09 662.63,353.45 663.14,355.50 661.35,354.37 659.56,355.50 660.07,353.45 658.45,352.09 660.56,351.95" fill="#111" stroke="#111" stroke-width="0.4" stroke-linejoin="round"/>
<line x1="655.80" y1="345.60" x2="672.70" y2="345.60" stroke="#000" stroke-width="1.3"/>
<polygon points="662.10,339.78 662.89,341.75 665.00,341.89 663.38,343.25 663.89,345.30 662.10,344.17 660.31,345.30 660.82,343.25 659.20,341.89 661.31,341.75" fill="#111" stroke="#111" stroke-width="0.4" stroke-linejoin="round"/>
<polygon points="669.40,339.78 670.19,341.75 672.30,341.89 670.68,343.25 671.19,345.30 669.40,344.17 667.61,345.30 668.12,343.25 666.50,341.89 668.61,341.75" fill="#111" stroke="#111" stroke-width="0.4" stroke-linejoin="round"/>
<text x="351.00" y="301.40" font-size="22.5" font-weight="bold">d</text>
<rect x="427.60" y="297.90" width="8.00" height="6.60" fill="#c0c0c0" stroke="#1a1a1a" stroke-width="1.2"/>
<rect x="427.60" y="313.00" width="8.00" height="7.00" fill="#ffffff" stroke="#1a1a1a" stroke-width="1.2"/>
<rect x="427.60" y="328.60" width="8.00" height="6.60" fill="#858585" stroke="#1a1a1a" stroke-width="1.2"/>
<rect x="427.60" y="343.60" width="8.00" height="6.60" fill="#000000" stroke="#1a1a1a" stroke-width="1.2"/>
<text x="439.80" y="308.10" font-size="17.4">WT BCG</text>
<path d="M443.99,320.62 L447.80,311.22 L451.61,320.62 Z" fill="none" stroke="#111" stroke-width="1.15" stroke-linejoin="miter"/>
<text x="457.60" y="322.50" font-size="17.4"><tspan font-style="italic">mce2E</tspan></text>
<path d="M443.99,335.53 L447.80,326.12 L451.61,335.53 Z" fill="none" stroke="#111" stroke-width="1.15" stroke-linejoin="miter"/>
<text x="457.60" y="337.40" font-size="17.4"><tspan font-style="italic">mce2E:mce2E</tspan></text>
<path d="M443.99,350.23 L447.80,340.82 L451.61,350.23 Z" fill="none" stroke="#111" stroke-width="1.15" stroke-linejoin="miter"/>
<text x="457.60" y="352.20" font-size="17.4"><tspan font-style="italic">mce2E:mce2E</tspan> AAA</text>
<rect x="263.40" y="722.92" width="8.70" height="30.88" fill="#c0c0c0"/>
<rect x="272.10" y="723.33" width="7.70" height="30.47" fill="#ffffff"/>
<rect x="279.80" y="722.31" width="7.30" height="31.49" fill="#858585"/>
<rect x="287.10" y="723.33" width="8.10" height="30.47" fill="#000000"/>
<rect x="305.00" y="689.18" width="8.70" height="64.62" fill="#c0c0c0"/>
<rect x="313.70" y="695.72" width="7.70" height="58.08" fill="#ffffff"/>
<rect x="321.40" y="689.59" width="7.30" height="64.21" fill="#858585"/>
<rect x="328.70" y="692.45" width="8.10" height="61.35" fill="#000000"/>
<rect x="346.10" y="726.52" width="8.70" height="27.28" fill="#c0c0c0"/>
<rect x="354.80" y="731.30" width="7.70" height="22.50" fill="#ffffff"/>
<rect x="362.50" y="726.52" width="7.30" height="27.28" fill="#858585"/>
<rect x="369.80" y="730.08" width="8.10" height="23.72" fill="#000000"/>
<rect x="387.80" y="723.94" width="8.70" height="29.86" fill="#c0c0c0"/>
<rect x="396.50" y="733.35" width="7.70" height="20.45" fill="#ffffff"/>
<rect x="404.20" y="723.12" width="7.30" height="30.67" fill="#858585"/>
<rect x="411.50" y="729.67" width="8.10" height="24.13" fill="#000000"/>
<rect x="428.00" y="703.90" width="8.70" height="49.90" fill="#c0c0c0"/>
<rect x="436.70" y="718.63" width="7.70" height="35.17" fill="#ffffff"/>
<rect x="444.40" y="704.31" width="7.30" height="49.49" fill="#858585"/>
<rect x="451.70" y="712.08" width="8.10" height="41.72" fill="#000000"/>
<rect x="470.00" y="675.68" width="8.70" height="78.12" fill="#c0c0c0"/>
<rect x="478.70" y="705.13" width="7.70" height="48.67" fill="#ffffff"/>
<rect x="486.40" y="672.00" width="7.30" height="81.80" fill="#858585"/>
<rect x="493.70" y="694.90" width="8.10" height="58.90" fill="#000000"/>
<line x1="267.50" y1="722.51" x2="267.50" y2="723.33" stroke="#000" stroke-width="1.0"/>
<line x1="263.15" y1="722.51" x2="271.85" y2="722.51" stroke="#000" stroke-width="1.3"/>
<line x1="263.15" y1="723.33" x2="271.85" y2="723.33" stroke="#000" stroke-width="1.3"/>
<line x1="275.50" y1="722.51" x2="275.50" y2="724.15" stroke="#000" stroke-width="1.0"/>
<line x1="271.65" y1="722.51" x2="279.35" y2="722.51" stroke="#000" stroke-width="1.3"/>
<line x1="271.65" y1="724.15" x2="279.35" y2="724.15" stroke="#000" stroke-width="1.3"/>
<line x1="283.50" y1="719.85" x2="283.50" y2="724.76" stroke="#000" stroke-width="1.0"/>
<line x1="279.85" y1="719.85" x2="287.15" y2="719.85" stroke="#000" stroke-width="1.3"/>
<line x1="279.85" y1="724.76" x2="287.15" y2="724.76" stroke="#000" stroke-width="1.3"/>
<line x1="291.50" y1="722.51" x2="291.50" y2="724.15" stroke="#000" stroke-width="1.0"/>
<line x1="287.45" y1="722.51" x2="295.55" y2="722.51" stroke="#000" stroke-width="1.3"/>
<line x1="287.45" y1="724.15" x2="295.55" y2="724.15" stroke="#000" stroke-width="1.3"/>
<line x1="309.50" y1="687.95" x2="309.50" y2="690.40" stroke="#000" stroke-width="1.0"/>
<line x1="305.15" y1="687.95" x2="313.85" y2="687.95" stroke="#000" stroke-width="1.3"/>
<line x1="305.15" y1="690.40" x2="313.85" y2="690.40" stroke="#000" stroke-width="1.3"/>
<line x1="317.50" y1="693.27" x2="317.50" y2="698.18" stroke="#000" stroke-width="1.0"/>
<line x1="313.65" y1="693.27" x2="321.35" y2="693.27" stroke="#000" stroke-width="1.3"/>
<line x1="313.65" y1="698.18" x2="321.35" y2="698.18" stroke="#000" stroke-width="1.3"/>
<line x1="325.50" y1="689.18" x2="325.50" y2="690.00" stroke="#000" stroke-width="1.0"/>
<line x1="321.85" y1="689.18" x2="329.15" y2="689.18" stroke="#000" stroke-width="1.3"/>
<line x1="321.85" y1="690.00" x2="329.15" y2="690.00" stroke="#000" stroke-width="1.3"/>
<line x1="332.50" y1="690.81" x2="332.50" y2="694.09" stroke="#000" stroke-width="1.0"/>
<line x1="328.45" y1="690.81" x2="336.55" y2="690.81" stroke="#000" stroke-width="1.3"/>
<line x1="328.45" y1="694.09" x2="336.55" y2="694.09" stroke="#000" stroke-width="1.3"/>
<line x1="350.50" y1="726.11" x2="350.50" y2="726.93" stroke="#000" stroke-width="1.0"/>
<line x1="346.15" y1="726.11" x2="354.85" y2="726.11" stroke="#000" stroke-width="1.3"/>
<line x1="346.15" y1="726.93" x2="354.85" y2="726.93" stroke="#000" stroke-width="1.3"/>
<line x1="358.50" y1="730.08" x2="358.50" y2="732.53" stroke="#000" stroke-width="1.0"/>
<line x1="354.65" y1="730.08" x2="362.35" y2="730.08" stroke="#000" stroke-width="1.3"/>
<line x1="354.65" y1="732.53" x2="362.35" y2="732.53" stroke="#000" stroke-width="1.3"/>
<line x1="366.50" y1="725.29" x2="366.50" y2="727.75" stroke="#000" stroke-width="1.0"/>
<line x1="362.85" y1="725.29" x2="370.15" y2="725.29" stroke="#000" stroke-width="1.3"/>
<line x1="362.85" y1="727.75" x2="370.15" y2="727.75" stroke="#000" stroke-width="1.3"/>
<line x1="373.50" y1="729.67" x2="373.50" y2="730.49" stroke="#000" stroke-width="1.0"/>
<line x1="369.45" y1="729.67" x2="377.55" y2="729.67" stroke="#000" stroke-width="1.3"/>
<line x1="369.45" y1="730.49" x2="377.55" y2="730.49" stroke="#000" stroke-width="1.3"/>
<line x1="392.50" y1="720.67" x2="392.50" y2="727.22" stroke="#000" stroke-width="1.0"/>
<line x1="388.15" y1="720.67" x2="396.85" y2="720.67" stroke="#000" stroke-width="1.3"/>
<line x1="388.15" y1="727.22" x2="396.85" y2="727.22" stroke="#000" stroke-width="1.3"/>
<line x1="400.50" y1="731.71" x2="400.50" y2="734.99" stroke="#000" stroke-width="1.0"/>
<line x1="396.65" y1="731.71" x2="404.35" y2="731.71" stroke="#000" stroke-width="1.3"/>
<line x1="396.65" y1="734.99" x2="404.35" y2="734.99" stroke="#000" stroke-width="1.3"/>
<line x1="407.50" y1="720.67" x2="407.50" y2="725.58" stroke="#000" stroke-width="1.0"/>
<line x1="403.85" y1="720.67" x2="411.15" y2="720.67" stroke="#000" stroke-width="1.3"/>
<line x1="403.85" y1="725.58" x2="411.15" y2="725.58" stroke="#000" stroke-width="1.3"/>
<line x1="415.50" y1="728.03" x2="415.50" y2="731.30" stroke="#000" stroke-width="1.0"/>
<line x1="411.45" y1="728.03" x2="419.55" y2="728.03" stroke="#000" stroke-width="1.3"/>
<line x1="411.45" y1="731.30" x2="419.55" y2="731.30" stroke="#000" stroke-width="1.3"/>
<line x1="432.50" y1="701.86" x2="432.50" y2="705.95" stroke="#000" stroke-width="1.0"/>
<line x1="428.15" y1="701.86" x2="436.85" y2="701.86" stroke="#000" stroke-width="1.3"/>
<line x1="428.15" y1="705.95" x2="436.85" y2="705.95" stroke="#000" stroke-width="1.3"/>
<line x1="440.50" y1="716.17" x2="440.50" y2="721.08" stroke="#000" stroke-width="1.0"/>
<line x1="436.65" y1="716.17" x2="444.35" y2="716.17" stroke="#000" stroke-width="1.3"/>
<line x1="436.65" y1="721.08" x2="444.35" y2="721.08" stroke="#000" stroke-width="1.3"/>
<line x1="448.50" y1="702.67" x2="448.50" y2="705.95" stroke="#000" stroke-width="1.0"/>
<line x1="444.85" y1="702.67" x2="452.15" y2="702.67" stroke="#000" stroke-width="1.3"/>
<line x1="444.85" y1="705.95" x2="452.15" y2="705.95" stroke="#000" stroke-width="1.3"/>
<line x1="455.50" y1="712.08" x2="455.50" y2="712.08" stroke="#000" stroke-width="1.0"/>
<line x1="451.45" y1="712.08" x2="459.55" y2="712.08" stroke="#000" stroke-width="1.3"/>
<line x1="474.50" y1="673.64" x2="474.50" y2="677.73" stroke="#000" stroke-width="1.0"/>
<line x1="470.15" y1="673.64" x2="478.85" y2="673.64" stroke="#000" stroke-width="1.3"/>
<line x1="470.15" y1="677.73" x2="478.85" y2="677.73" stroke="#000" stroke-width="1.3"/>
<line x1="482.50" y1="702.67" x2="482.50" y2="707.58" stroke="#000" stroke-width="1.0"/>
<line x1="478.65" y1="702.67" x2="486.35" y2="702.67" stroke="#000" stroke-width="1.3"/>
<line x1="478.65" y1="707.58" x2="486.35" y2="707.58" stroke="#000" stroke-width="1.3"/>
<line x1="490.50" y1="667.09" x2="490.50" y2="676.91" stroke="#000" stroke-width="1.0"/>
<line x1="486.85" y1="667.09" x2="494.15" y2="667.09" stroke="#000" stroke-width="1.3"/>
<line x1="486.85" y1="676.91" x2="494.15" y2="676.91" stroke="#000" stroke-width="1.3"/>
<line x1="497.50" y1="694.09" x2="497.50" y2="695.72" stroke="#000" stroke-width="1.0"/>
<line x1="493.45" y1="694.09" x2="501.55" y2="694.09" stroke="#000" stroke-width="1.3"/>
<line x1="493.45" y1="695.72" x2="501.55" y2="695.72" stroke="#000" stroke-width="1.3"/>
<line x1="258.30" y1="630.10" x2="258.30" y2="755.00" stroke="#000" stroke-width="2.4"/>
<line x1="257.10" y1="753.80" x2="507.40" y2="753.80" stroke="#000" stroke-width="2.4"/>
<line x1="252.80" y1="753.80" x2="258.30" y2="753.80" stroke="#000" stroke-width="2.4"/>
<text x="250.70" y="758.50" font-size="17.4" text-anchor="end">0</text>
<line x1="252.80" y1="712.90" x2="258.30" y2="712.90" stroke="#000" stroke-width="2.0"/>
<text x="250.70" y="718.70" font-size="17.4" text-anchor="end">10</text>
<line x1="252.80" y1="672.00" x2="258.30" y2="672.00" stroke="#000" stroke-width="2.0"/>
<text x="250.70" y="677.40" font-size="17.4" text-anchor="end">20</text>
<line x1="252.80" y1="631.10" x2="258.30" y2="631.10" stroke="#000" stroke-width="2.0"/>
<text x="250.70" y="639.70" font-size="17.4" text-anchor="end">30</text>
<text x="276.70" y="774.80" font-size="17.4" text-anchor="middle">1</text>
<text x="320.90" y="774.80" font-size="17.4" text-anchor="middle">2</text>
<text x="360.20" y="774.80" font-size="17.4" text-anchor="middle">4</text>
<text x="404.20" y="774.80" font-size="17.4" text-anchor="middle">8</text>
<text x="442.90" y="774.80" font-size="17.4" text-anchor="middle">24</text>
<text x="486.40" y="774.80" font-size="17.4" text-anchor="middle">48</text>
<text x="199.50" y="774.00" font-size="16.9">Time (h)</text>
<text transform="translate(220.70,738.30) rotate(-90)" font-size="17.2">CFU <tspan dx="-2">(</tspan><tspan dx="23">10</tspan><tspan dy="-6.5" font-size="11.5">3</tspan><tspan dy="6.5">)</tspan></text>
<line x1="208.90" y1="680.10" x2="220.10" y2="691.20" stroke="#111" stroke-width="1.05"/>
<line x1="208.90" y1="691.20" x2="220.10" y2="680.10" stroke="#111" stroke-width="1.05"/>
<line x1="344.40" y1="714.90" x2="361.80" y2="714.90" stroke="#000" stroke-width="1.3"/>
<polygon points="353.10,708.65 353.85,710.52 355.86,710.66 354.31,711.95 354.80,713.90 353.10,712.83 351.40,713.90 351.89,711.95 350.34,710.66 352.35,710.52" fill="#111" stroke="#111" stroke-width="0.4" stroke-linejoin="round"/>
<line x1="356.10" y1="701.50" x2="372.90" y2="701.50" stroke="#000" stroke-width="1.3"/>
<polygon points="364.50,695.25 365.25,697.12 367.26,697.26 365.71,698.55 366.20,700.50 364.50,699.43 362.80,700.50 363.29,698.55 361.74,697.26 363.75,697.12" fill="#111" stroke="#111" stroke-width="0.4" stroke-linejoin="round"/>
<line x1="363.00" y1="721.10" x2="380.10" y2="721.10" stroke="#000" stroke-width="1.3"/>
<polygon points="371.55,714.85 372.30,716.72 374.31,716.86 372.76,718.15 373.25,720.10 371.55,719.03 369.85,720.10 370.34,718.15 368.79,716.86 370.80,716.72" fill="#111" stroke="#111" stroke-width="0.4" stroke-linejoin="round"/>
<line x1="385.80" y1="708.40" x2="403.20" y2="708.40" stroke="#000" stroke-width="1.3"/>
<polygon points="392.60,699.75 393.35,701.62 395.36,701.76 393.81,703.05 394.30,705.00 392.60,703.93 390.90,705.00 391.39,703.05 389.84,701.76 391.85,701.62" fill="#111" stroke="#111" stroke-width="0.4" stroke-linejoin="round"/>
<polygon points="399.60,699.75 400.35,701.62 402.36,701.76 400.81,703.05 401.30,705.00 399.60,703.93 397.90,705.00 398.39,703.05 396.84,701.76 398.85,701.62" fill="#111" stroke="#111" stroke-width="0.4" stroke-linejoin="round"/>
<line x1="396.50" y1="694.00" x2="413.90" y2="694.00" stroke="#000" stroke-width="1.3"/>
<polygon points="403.30,685.35 404.05,687.22 406.06,687.36 404.51,688.65 405.00,690.60 403.30,689.53 401.60,690.60 402.09,688.65 400.54,687.36 402.55,687.22" fill="#111" stroke="#111" stroke-width="0.4" stroke-linejoin="round"/>
<polygon points="410.30,685.35 411.05,687.22 413.06,687.36 411.51,688.65 412.00,690.60 410.30,689.53 408.60,690.60 409.09,688.65 407.54,687.36 409.55,687.22" fill="#111" stroke="#111" stroke-width="0.4" stroke-linejoin="round"/>
<line x1="402.70" y1="716.80" x2="419.80" y2="716.80" stroke="#000" stroke-width="1.3"/>
<polygon points="411.25,710.55 412.00,712.42 414.01,712.56 412.46,713.85 412.95,715.80 411.25,714.73 409.55,715.80 410.04,713.85 408.49,712.56 410.50,712.42" fill="#111" stroke="#111" stroke-width="0.4" stroke-linejoin="round"/>
<line x1="425.00" y1="689.10" x2="442.20" y2="689.10" stroke="#000" stroke-width="1.3"/>
<polygon points="431.70,680.45 432.45,682.32 434.46,682.46 432.91,683.75 433.40,685.70 431.70,684.63 430.00,685.70 430.49,683.75 428.94,682.46 430.95,682.32" fill="#111" stroke="#111" stroke-width="0.4" stroke-linejoin="round"/>
<polygon points="438.70,680.45 439.45,682.32 441.46,682.46 439.91,683.75 440.40,685.70 438.70,684.63 437.00,685.70 437.49,683.75 435.94,682.46 437.95,682.32" fill="#111" stroke="#111" stroke-width="0.4" stroke-linejoin="round"/>
<line x1="437.90" y1="674.70" x2="454.80" y2="674.70" stroke="#000" stroke-width="1.3"/>
<polygon points="444.45,666.05 445.20,667.92 447.21,668.06 445.66,669.35 446.15,671.30 444.45,670.23 442.75,671.30 443.24,669.35 441.69,668.06 443.70,667.92" fill="#111" stroke="#111" stroke-width="0.4" stroke-linejoin="round"/>
<polygon points="451.45,666.05 452.20,667.92 454.21,668.06 452.66,669.35 453.15,671.30 451.45,670.23 449.75,671.30 450.24,669.35 448.69,668.06 450.70,667.92" fill="#111" stroke="#111" stroke-width="0.4" stroke-linejoin="round"/>
<line x1="444.60" y1="699.00" x2="461.50" y2="699.00" stroke="#000" stroke-width="1.3"/>
<polygon points="453.05,692.75 453.80,694.62 455.81,694.76 454.26,696.05 454.75,698.00 453.05,696.93 451.35,698.00 451.84,696.05 450.29,694.76 452.30,694.62" fill="#111" stroke="#111" stroke-width="0.4" stroke-linejoin="round"/>
<line x1="467.20" y1="653.50" x2="484.30" y2="653.50" stroke="#000" stroke-width="1.3"/>
<polygon points="473.85,644.85 474.60,646.72 476.61,646.86 475.06,648.15 475.55,650.10 473.85,649.03 472.15,650.10 472.64,648.15 471.09,646.86 473.10,646.72" fill="#111" stroke="#111" stroke-width="0.4" stroke-linejoin="round"/>
<polygon points="480.85,644.85 481.60,646.72 483.61,646.86 482.06,648.15 482.55,650.10 480.85,649.03 479.15,650.10 479.64,648.15 478.09,646.86 480.10,646.72" fill="#111" stroke="#111" stroke-width="0.4" stroke-linejoin="round"/>
<line x1="479.20" y1="640.40" x2="496.50" y2="640.40" stroke="#000" stroke-width="1.3"/>
<polygon points="485.95,631.75 486.70,633.62 488.71,633.76 487.16,635.05 487.65,637.00 485.95,635.93 484.25,637.00 484.74,635.05 483.19,633.76 485.20,633.62" fill="#111" stroke="#111" stroke-width="0.4" stroke-linejoin="round"/>
<polygon points="492.95,631.75 493.70,633.62 495.71,633.76 494.16,635.05 494.65,637.00 492.95,635.93 491.25,637.00 491.74,635.05 490.19,633.76 492.20,633.62" fill="#111" stroke="#111" stroke-width="0.4" stroke-linejoin="round"/>
<line x1="485.50" y1="658.80" x2="502.80" y2="658.80" stroke="#000" stroke-width="1.3"/>
<polygon points="492.25,650.15 493.00,652.02 495.01,652.16 493.46,653.45 493.95,655.40 492.25,654.33 490.55,655.40 491.04,653.45 489.49,652.16 491.50,652.02" fill="#111" stroke="#111" stroke-width="0.4" stroke-linejoin="round"/>
<polygon points="499.25,650.15 500.00,652.02 502.01,652.16 500.46,653.45 500.95,655.40 499.25,654.33 497.55,655.40 498.04,653.45 496.49,652.16 498.50,652.02" fill="#111" stroke="#111" stroke-width="0.4" stroke-linejoin="round"/>
<text x="194.00" y="594.50" font-size="24" font-weight="bold">e</text>
<rect x="265.20" y="589.50" width="7.40" height="7.70" fill="#c0c0c0" stroke="#1a1a1a" stroke-width="1.2"/>
<rect x="265.20" y="606.00" width="7.40" height="7.60" fill="#ffffff" stroke="#1a1a1a" stroke-width="1.2"/>
<rect x="265.20" y="622.60" width="7.40" height="7.40" fill="#858585" stroke="#1a1a1a" stroke-width="1.2"/>
<rect x="265.20" y="639.30" width="7.40" height="6.80" fill="#000000" stroke="#1a1a1a" stroke-width="1.2"/>
<text x="278.80" y="598.50" font-size="17.4">WT BCG</text>
<path d="M281.59,612.62 L285.40,603.22 L289.21,612.62 Z" fill="none" stroke="#111" stroke-width="1.15" stroke-linejoin="miter"/>
<text x="295.00" y="614.50" font-size="17.4"><tspan font-style="italic">mce2E</tspan></text>
<path d="M281.59,629.22 L285.40,619.82 L289.21,629.22 Z" fill="none" stroke="#111" stroke-width="1.15" stroke-linejoin="miter"/>
<text x="295.00" y="630.80" font-size="17.4"><tspan font-style="italic">mce2E:mce2E</tspan></text>
<path d="M281.59,646.92 L285.40,637.52 L289.21,646.92 Z" fill="none" stroke="#111" stroke-width="1.15" stroke-linejoin="miter"/>
<text x="295.00" y="648.50" font-size="17.4"><tspan font-style="italic">mce2E:mce2E</tspan> AAA</text>
</svg></body></html>
